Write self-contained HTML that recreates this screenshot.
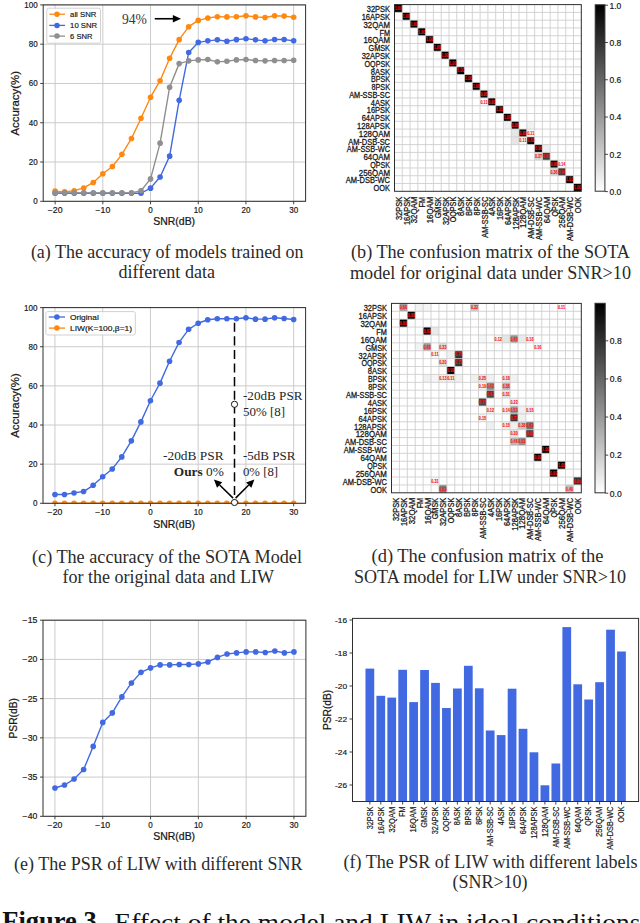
<!DOCTYPE html><html><head><meta charset="utf-8"><style>html,body{margin:0;padding:0;background:#fff;width:640px;height:923px;overflow:hidden}svg{display:block}</style></head><body>
<svg width="640" height="923" viewBox="0 0 640 923">
<rect width="640" height="923" fill="#fff"/>
<clipPath id="ca"><rect x="43.20" y="4.90" width="262.40" height="196.40"/></clipPath>
<line x1="55.13" y1="4.90" x2="55.13" y2="201.30" stroke="#cbcbcb" stroke-width="1.00"/>
<line x1="102.84" y1="4.90" x2="102.84" y2="201.30" stroke="#cbcbcb" stroke-width="1.00"/>
<line x1="150.55" y1="4.90" x2="150.55" y2="201.30" stroke="#cbcbcb" stroke-width="1.00"/>
<line x1="198.25" y1="4.90" x2="198.25" y2="201.30" stroke="#cbcbcb" stroke-width="1.00"/>
<line x1="245.96" y1="4.90" x2="245.96" y2="201.30" stroke="#cbcbcb" stroke-width="1.00"/>
<line x1="293.67" y1="4.90" x2="293.67" y2="201.30" stroke="#cbcbcb" stroke-width="1.00"/>
<line x1="43.20" y1="201.30" x2="305.60" y2="201.30" stroke="#cbcbcb" stroke-width="1.00"/>
<line x1="43.20" y1="162.02" x2="305.60" y2="162.02" stroke="#cbcbcb" stroke-width="1.00"/>
<line x1="43.20" y1="122.74" x2="305.60" y2="122.74" stroke="#cbcbcb" stroke-width="1.00"/>
<line x1="43.20" y1="83.46" x2="305.60" y2="83.46" stroke="#cbcbcb" stroke-width="1.00"/>
<line x1="43.20" y1="44.18" x2="305.60" y2="44.18" stroke="#cbcbcb" stroke-width="1.00"/>
<line x1="43.20" y1="4.90" x2="305.60" y2="4.90" stroke="#cbcbcb" stroke-width="1.00"/>
<line x1="55.13" y1="201.30" x2="55.13" y2="204.30" stroke="#2e2e2e" stroke-width="0.90"/>
<line x1="102.84" y1="201.30" x2="102.84" y2="204.30" stroke="#2e2e2e" stroke-width="0.90"/>
<line x1="150.55" y1="201.30" x2="150.55" y2="204.30" stroke="#2e2e2e" stroke-width="0.90"/>
<line x1="198.25" y1="201.30" x2="198.25" y2="204.30" stroke="#2e2e2e" stroke-width="0.90"/>
<line x1="245.96" y1="201.30" x2="245.96" y2="204.30" stroke="#2e2e2e" stroke-width="0.90"/>
<line x1="293.67" y1="201.30" x2="293.67" y2="204.30" stroke="#2e2e2e" stroke-width="0.90"/>
<line x1="40.20" y1="201.30" x2="43.20" y2="201.30" stroke="#2e2e2e" stroke-width="0.90"/>
<line x1="40.20" y1="162.02" x2="43.20" y2="162.02" stroke="#2e2e2e" stroke-width="0.90"/>
<line x1="40.20" y1="122.74" x2="43.20" y2="122.74" stroke="#2e2e2e" stroke-width="0.90"/>
<line x1="40.20" y1="83.46" x2="43.20" y2="83.46" stroke="#2e2e2e" stroke-width="0.90"/>
<line x1="40.20" y1="44.18" x2="43.20" y2="44.18" stroke="#2e2e2e" stroke-width="0.90"/>
<line x1="40.20" y1="4.90" x2="43.20" y2="4.90" stroke="#2e2e2e" stroke-width="0.90"/>
<text x="55.13" y="212.50" font-size="8.30" font-family='"Liberation Sans", sans-serif' font-weight="400" fill="#161616" text-anchor="middle" textLength="14.77" lengthAdjust="spacingAndGlyphs" stroke="#161616" stroke-width="0.18">−20</text>
<text x="102.84" y="212.50" font-size="8.30" font-family='"Liberation Sans", sans-serif' font-weight="400" fill="#161616" text-anchor="middle" textLength="14.77" lengthAdjust="spacingAndGlyphs" stroke="#161616" stroke-width="0.18">−10</text>
<text x="150.55" y="212.50" font-size="8.30" font-family='"Liberation Sans", sans-serif' font-weight="400" fill="#161616" text-anchor="middle" textLength="4.45" lengthAdjust="spacingAndGlyphs" stroke="#161616" stroke-width="0.18">0</text>
<text x="198.25" y="212.50" font-size="8.30" font-family='"Liberation Sans", sans-serif' font-weight="400" fill="#161616" text-anchor="middle" textLength="8.91" lengthAdjust="spacingAndGlyphs" stroke="#161616" stroke-width="0.18">10</text>
<text x="245.96" y="212.50" font-size="8.30" font-family='"Liberation Sans", sans-serif' font-weight="400" fill="#161616" text-anchor="middle" textLength="8.91" lengthAdjust="spacingAndGlyphs" stroke="#161616" stroke-width="0.18">20</text>
<text x="293.67" y="212.50" font-size="8.30" font-family='"Liberation Sans", sans-serif' font-weight="400" fill="#161616" text-anchor="middle" textLength="8.91" lengthAdjust="spacingAndGlyphs" stroke="#161616" stroke-width="0.18">30</text>
<text x="37.60" y="204.30" font-size="8.30" font-family='"Liberation Sans", sans-serif' font-weight="400" fill="#161616" text-anchor="end" textLength="4.45" lengthAdjust="spacingAndGlyphs" stroke="#161616" stroke-width="0.18">0</text>
<text x="37.60" y="165.02" font-size="8.30" font-family='"Liberation Sans", sans-serif' font-weight="400" fill="#161616" text-anchor="end" textLength="8.91" lengthAdjust="spacingAndGlyphs" stroke="#161616" stroke-width="0.18">20</text>
<text x="37.60" y="125.74" font-size="8.30" font-family='"Liberation Sans", sans-serif' font-weight="400" fill="#161616" text-anchor="end" textLength="8.91" lengthAdjust="spacingAndGlyphs" stroke="#161616" stroke-width="0.18">40</text>
<text x="37.60" y="86.46" font-size="8.30" font-family='"Liberation Sans", sans-serif' font-weight="400" fill="#161616" text-anchor="end" textLength="8.91" lengthAdjust="spacingAndGlyphs" stroke="#161616" stroke-width="0.18">60</text>
<text x="37.60" y="47.18" font-size="8.30" font-family='"Liberation Sans", sans-serif' font-weight="400" fill="#161616" text-anchor="end" textLength="8.91" lengthAdjust="spacingAndGlyphs" stroke="#161616" stroke-width="0.18">80</text>
<text x="37.60" y="7.90" font-size="8.30" font-family='"Liberation Sans", sans-serif' font-weight="400" fill="#161616" text-anchor="end" textLength="13.36" lengthAdjust="spacingAndGlyphs" stroke="#161616" stroke-width="0.18">100</text>
<polyline points="55.13,193.25 64.67,193.25 74.21,193.25 83.75,193.25 93.29,193.25 102.84,193.25 112.38,193.25 121.92,193.25 131.46,193.25 141.00,193.25 150.55,188.14 160.09,176.95 169.63,156.13 179.17,100.35 188.71,52.43 198.25,42.41 207.80,40.84 217.34,39.86 226.88,41.23 236.42,39.66 245.96,38.68 255.51,39.86 265.05,40.84 274.59,39.47 284.13,39.47 293.67,40.84" fill="none" stroke="#4169e1" stroke-width="1.40" stroke-linejoin="round" clip-path="url(#ca)"/>
<g fill="#4169e1" clip-path="url(#ca)">
<circle cx="55.13" cy="193.25" r="2.80"/>
<circle cx="64.67" cy="193.25" r="2.80"/>
<circle cx="74.21" cy="193.25" r="2.80"/>
<circle cx="83.75" cy="193.25" r="2.80"/>
<circle cx="93.29" cy="193.25" r="2.80"/>
<circle cx="102.84" cy="193.25" r="2.80"/>
<circle cx="112.38" cy="193.25" r="2.80"/>
<circle cx="121.92" cy="193.25" r="2.80"/>
<circle cx="131.46" cy="193.25" r="2.80"/>
<circle cx="141.00" cy="193.25" r="2.80"/>
<circle cx="150.55" cy="188.14" r="2.80"/>
<circle cx="160.09" cy="176.95" r="2.80"/>
<circle cx="169.63" cy="156.13" r="2.80"/>
<circle cx="179.17" cy="100.35" r="2.80"/>
<circle cx="188.71" cy="52.43" r="2.80"/>
<circle cx="198.25" cy="42.41" r="2.80"/>
<circle cx="207.80" cy="40.84" r="2.80"/>
<circle cx="217.34" cy="39.86" r="2.80"/>
<circle cx="226.88" cy="41.23" r="2.80"/>
<circle cx="236.42" cy="39.66" r="2.80"/>
<circle cx="245.96" cy="38.68" r="2.80"/>
<circle cx="255.51" cy="39.86" r="2.80"/>
<circle cx="265.05" cy="40.84" r="2.80"/>
<circle cx="274.59" cy="39.47" r="2.80"/>
<circle cx="284.13" cy="39.47" r="2.80"/>
<circle cx="293.67" cy="40.84" r="2.80"/>
</g>
<polyline points="55.13,191.09 64.67,191.87 74.21,190.69 83.75,187.94 93.29,182.45 102.84,173.80 112.38,166.54 121.92,154.36 131.46,138.45 141.00,118.22 150.55,97.21 160.09,80.71 169.63,58.32 179.17,39.66 188.71,26.70 198.25,20.42 207.80,18.06 217.34,16.68 226.88,16.88 236.42,16.68 245.96,15.70 255.51,16.88 265.05,17.47 274.59,15.70 284.13,16.09 293.67,17.27" fill="none" stroke="#ff8811" stroke-width="1.40" stroke-linejoin="round" clip-path="url(#ca)"/>
<g fill="#ff8811" clip-path="url(#ca)">
<circle cx="55.13" cy="191.09" r="2.80"/>
<circle cx="64.67" cy="191.87" r="2.80"/>
<circle cx="74.21" cy="190.69" r="2.80"/>
<circle cx="83.75" cy="187.94" r="2.80"/>
<circle cx="93.29" cy="182.45" r="2.80"/>
<circle cx="102.84" cy="173.80" r="2.80"/>
<circle cx="112.38" cy="166.54" r="2.80"/>
<circle cx="121.92" cy="154.36" r="2.80"/>
<circle cx="131.46" cy="138.45" r="2.80"/>
<circle cx="141.00" cy="118.22" r="2.80"/>
<circle cx="150.55" cy="97.21" r="2.80"/>
<circle cx="160.09" cy="80.71" r="2.80"/>
<circle cx="169.63" cy="58.32" r="2.80"/>
<circle cx="179.17" cy="39.66" r="2.80"/>
<circle cx="188.71" cy="26.70" r="2.80"/>
<circle cx="198.25" cy="20.42" r="2.80"/>
<circle cx="207.80" cy="18.06" r="2.80"/>
<circle cx="217.34" cy="16.68" r="2.80"/>
<circle cx="226.88" cy="16.88" r="2.80"/>
<circle cx="236.42" cy="16.68" r="2.80"/>
<circle cx="245.96" cy="15.70" r="2.80"/>
<circle cx="255.51" cy="16.88" r="2.80"/>
<circle cx="265.05" cy="17.47" r="2.80"/>
<circle cx="274.59" cy="15.70" r="2.80"/>
<circle cx="284.13" cy="16.09" r="2.80"/>
<circle cx="293.67" cy="17.27" r="2.80"/>
</g>
<polyline points="55.13,192.85 64.67,192.85 74.21,192.85 83.75,192.85 93.29,192.85 102.84,192.85 112.38,192.85 121.92,192.85 131.46,192.85 141.00,190.69 150.55,178.91 160.09,143.17 169.63,87.19 179.17,63.62 188.71,60.87 198.25,59.89 207.80,59.50 217.34,61.86 226.88,61.27 236.42,59.89 245.96,59.50 255.51,60.48 265.05,60.87 274.59,60.48 284.13,60.48 293.67,60.28" fill="none" stroke="#8f8f8f" stroke-width="1.40" stroke-linejoin="round" clip-path="url(#ca)"/>
<g fill="#8f8f8f" clip-path="url(#ca)">
<circle cx="55.13" cy="192.85" r="2.80"/>
<circle cx="64.67" cy="192.85" r="2.80"/>
<circle cx="74.21" cy="192.85" r="2.80"/>
<circle cx="83.75" cy="192.85" r="2.80"/>
<circle cx="93.29" cy="192.85" r="2.80"/>
<circle cx="102.84" cy="192.85" r="2.80"/>
<circle cx="112.38" cy="192.85" r="2.80"/>
<circle cx="121.92" cy="192.85" r="2.80"/>
<circle cx="131.46" cy="192.85" r="2.80"/>
<circle cx="141.00" cy="190.69" r="2.80"/>
<circle cx="150.55" cy="178.91" r="2.80"/>
<circle cx="160.09" cy="143.17" r="2.80"/>
<circle cx="169.63" cy="87.19" r="2.80"/>
<circle cx="179.17" cy="63.62" r="2.80"/>
<circle cx="188.71" cy="60.87" r="2.80"/>
<circle cx="198.25" cy="59.89" r="2.80"/>
<circle cx="207.80" cy="59.50" r="2.80"/>
<circle cx="217.34" cy="61.86" r="2.80"/>
<circle cx="226.88" cy="61.27" r="2.80"/>
<circle cx="236.42" cy="59.89" r="2.80"/>
<circle cx="245.96" cy="59.50" r="2.80"/>
<circle cx="255.51" cy="60.48" r="2.80"/>
<circle cx="265.05" cy="60.87" r="2.80"/>
<circle cx="274.59" cy="60.48" r="2.80"/>
<circle cx="284.13" cy="60.48" r="2.80"/>
<circle cx="293.67" cy="60.28" r="2.80"/>
</g>
<rect x="43.20" y="4.90" width="262.40" height="196.40" fill="none" stroke="#2e2e2e" stroke-width="1"/>
<rect x="46.8" y="8.2" width="53.7" height="35" rx="1.8" fill="#fff" fill-opacity="0.8" stroke="#cccccc" stroke-width="0.9"/>
<line x1="49.30" y1="14.20" x2="65.00" y2="14.20" stroke="#ff8811" stroke-width="1.30"/>
<circle cx="57" cy="14.20" r="2.75" fill="#ff8811"/>
<text x="70.10" y="17.10" font-size="8.00" font-family='"Liberation Sans", sans-serif' font-weight="400" fill="#161616" text-anchor="start" textLength="26.20" lengthAdjust="spacingAndGlyphs" stroke="#161616" stroke-width="0.18">all SNR</text>
<line x1="49.30" y1="25.40" x2="65.00" y2="25.40" stroke="#4169e1" stroke-width="1.30"/>
<circle cx="57" cy="25.40" r="2.75" fill="#4169e1"/>
<text x="70.10" y="28.30" font-size="8.00" font-family='"Liberation Sans", sans-serif' font-weight="400" fill="#161616" text-anchor="start" textLength="26.96" lengthAdjust="spacingAndGlyphs" stroke="#161616" stroke-width="0.18">10 SNR</text>
<line x1="49.30" y1="36.10" x2="65.00" y2="36.10" stroke="#8f8f8f" stroke-width="1.30"/>
<circle cx="57" cy="36.10" r="2.75" fill="#8f8f8f"/>
<text x="70.10" y="39.00" font-size="8.00" font-family='"Liberation Sans", sans-serif' font-weight="400" fill="#161616" text-anchor="start" textLength="22.28" lengthAdjust="spacingAndGlyphs" stroke="#161616" stroke-width="0.18">6 SNR</text>
<text x="19.00" y="103.30" font-size="10.20" font-family='"Liberation Sans", sans-serif' font-weight="400" fill="#161616" text-anchor="middle" textLength="64.50" lengthAdjust="spacingAndGlyphs" transform="rotate(-90 19.00 103.30)" stroke="#161616" stroke-width="0.22">Accuracy(%)</text>
<text x="174.20" y="224.90" font-size="10.90" font-family='"Liberation Sans", sans-serif' font-weight="400" fill="#161616" text-anchor="middle" textLength="41.79" lengthAdjust="spacingAndGlyphs" stroke="#161616" stroke-width="0.24">SNR(dB)</text>
<text x="121.90" y="23.75" font-size="13.60" font-family='"Liberation Serif", serif' font-weight="400" fill="#383838" text-anchor="start" textLength="25.00" lengthAdjust="spacingAndGlyphs">94%</text>
<line x1="154.75" y1="18.75" x2="175.00" y2="18.75" stroke="#000" stroke-width="1.60"/>
<path d="M181.0,18.75 L172.8,15.0 L172.8,22.5 Z" fill="#000"/>
<text x="167.20" y="257.90" font-size="18.00" font-family='"Liberation Serif", serif' font-weight="400" fill="#2a2a2a" text-anchor="middle" textLength="272.60" lengthAdjust="spacingAndGlyphs">(a) The accuracy of models trained on</text>
<text x="166.75" y="278.10" font-size="18.00" font-family='"Liberation Serif", serif' font-weight="400" fill="#2a2a2a" text-anchor="middle" textLength="96.50" lengthAdjust="spacingAndGlyphs">different data</text>
<rect x="394.50" y="4.60" width="7.78" height="7.78" fill="#000000"/>
<rect x="402.28" y="12.38" width="7.78" height="7.78" fill="#000000"/>
<rect x="410.07" y="20.16" width="7.78" height="7.78" fill="#000000"/>
<rect x="417.85" y="27.94" width="7.78" height="7.78" fill="#000000"/>
<rect x="425.63" y="35.72" width="7.78" height="7.78" fill="#000000"/>
<rect x="433.42" y="43.50" width="7.78" height="7.78" fill="#000000"/>
<rect x="441.20" y="51.28" width="7.78" height="7.78" fill="#000000"/>
<rect x="448.98" y="59.05" width="7.78" height="7.78" fill="#000000"/>
<rect x="456.77" y="66.83" width="7.78" height="7.78" fill="#000000"/>
<rect x="464.55" y="74.61" width="7.78" height="7.78" fill="#000000"/>
<rect x="472.33" y="82.39" width="7.78" height="7.78" fill="#000000"/>
<rect x="480.12" y="90.17" width="7.78" height="7.78" fill="#0d0d0d"/>
<rect x="487.90" y="97.95" width="7.78" height="7.78" fill="#0d0d0d"/>
<rect x="495.68" y="105.73" width="7.78" height="7.78" fill="#000000"/>
<rect x="503.47" y="113.51" width="7.78" height="7.78" fill="#000000"/>
<rect x="511.25" y="121.29" width="7.78" height="7.78" fill="#080808"/>
<rect x="519.03" y="129.07" width="7.78" height="7.78" fill="#0d0d0d"/>
<rect x="526.82" y="136.85" width="7.78" height="7.78" fill="#0d0d0d"/>
<rect x="534.60" y="144.62" width="7.78" height="7.78" fill="#080808"/>
<rect x="542.38" y="152.40" width="7.78" height="7.78" fill="#3d3d3d"/>
<rect x="550.17" y="160.18" width="7.78" height="7.78" fill="#0d0d0d"/>
<rect x="557.95" y="167.96" width="7.78" height="7.78" fill="#3d3d3d"/>
<rect x="565.73" y="175.74" width="7.78" height="7.78" fill="#000000"/>
<rect x="573.52" y="183.52" width="7.78" height="7.78" fill="#000000"/>
<rect x="487.90" y="90.17" width="7.78" height="7.78" fill="#f2f2f2"/>
<rect x="480.12" y="97.95" width="7.78" height="7.78" fill="#fafafa"/>
<rect x="503.47" y="121.29" width="7.78" height="7.78" fill="#f2f2f2"/>
<rect x="526.82" y="121.29" width="7.78" height="7.78" fill="#f2f2f2"/>
<rect x="511.25" y="129.07" width="7.78" height="7.78" fill="#e6e6e6"/>
<rect x="526.82" y="129.07" width="7.78" height="7.78" fill="#fafafa"/>
<rect x="511.25" y="136.85" width="7.78" height="7.78" fill="#e6e6e6"/>
<rect x="519.03" y="136.85" width="7.78" height="7.78" fill="#fafafa"/>
<rect x="542.38" y="144.62" width="7.78" height="7.78" fill="#f0f0f0"/>
<rect x="534.60" y="152.40" width="7.78" height="7.78" fill="#d9d9d9"/>
<rect x="557.95" y="160.18" width="7.78" height="7.78" fill="#fafafa"/>
<rect x="550.17" y="167.96" width="7.78" height="7.78" fill="#d1d1d1"/>
<line x1="402.28" y1="4.60" x2="402.28" y2="191.30" stroke="#cdcdcd" stroke-width="1.00" stroke-opacity="0.85"/>
<line x1="394.50" y1="12.38" x2="581.30" y2="12.38" stroke="#cdcdcd" stroke-width="1.00" stroke-opacity="0.85"/>
<line x1="410.07" y1="4.60" x2="410.07" y2="191.30" stroke="#cdcdcd" stroke-width="1.00" stroke-opacity="0.85"/>
<line x1="394.50" y1="20.16" x2="581.30" y2="20.16" stroke="#cdcdcd" stroke-width="1.00" stroke-opacity="0.85"/>
<line x1="417.85" y1="4.60" x2="417.85" y2="191.30" stroke="#cdcdcd" stroke-width="1.00" stroke-opacity="0.85"/>
<line x1="394.50" y1="27.94" x2="581.30" y2="27.94" stroke="#cdcdcd" stroke-width="1.00" stroke-opacity="0.85"/>
<line x1="425.63" y1="4.60" x2="425.63" y2="191.30" stroke="#cdcdcd" stroke-width="1.00" stroke-opacity="0.85"/>
<line x1="394.50" y1="35.72" x2="581.30" y2="35.72" stroke="#cdcdcd" stroke-width="1.00" stroke-opacity="0.85"/>
<line x1="433.42" y1="4.60" x2="433.42" y2="191.30" stroke="#cdcdcd" stroke-width="1.00" stroke-opacity="0.85"/>
<line x1="394.50" y1="43.50" x2="581.30" y2="43.50" stroke="#cdcdcd" stroke-width="1.00" stroke-opacity="0.85"/>
<line x1="441.20" y1="4.60" x2="441.20" y2="191.30" stroke="#cdcdcd" stroke-width="1.00" stroke-opacity="0.85"/>
<line x1="394.50" y1="51.28" x2="581.30" y2="51.28" stroke="#cdcdcd" stroke-width="1.00" stroke-opacity="0.85"/>
<line x1="448.98" y1="4.60" x2="448.98" y2="191.30" stroke="#cdcdcd" stroke-width="1.00" stroke-opacity="0.85"/>
<line x1="394.50" y1="59.05" x2="581.30" y2="59.05" stroke="#cdcdcd" stroke-width="1.00" stroke-opacity="0.85"/>
<line x1="456.77" y1="4.60" x2="456.77" y2="191.30" stroke="#cdcdcd" stroke-width="1.00" stroke-opacity="0.85"/>
<line x1="394.50" y1="66.83" x2="581.30" y2="66.83" stroke="#cdcdcd" stroke-width="1.00" stroke-opacity="0.85"/>
<line x1="464.55" y1="4.60" x2="464.55" y2="191.30" stroke="#cdcdcd" stroke-width="1.00" stroke-opacity="0.85"/>
<line x1="394.50" y1="74.61" x2="581.30" y2="74.61" stroke="#cdcdcd" stroke-width="1.00" stroke-opacity="0.85"/>
<line x1="472.33" y1="4.60" x2="472.33" y2="191.30" stroke="#cdcdcd" stroke-width="1.00" stroke-opacity="0.85"/>
<line x1="394.50" y1="82.39" x2="581.30" y2="82.39" stroke="#cdcdcd" stroke-width="1.00" stroke-opacity="0.85"/>
<line x1="480.12" y1="4.60" x2="480.12" y2="191.30" stroke="#cdcdcd" stroke-width="1.00" stroke-opacity="0.85"/>
<line x1="394.50" y1="90.17" x2="581.30" y2="90.17" stroke="#cdcdcd" stroke-width="1.00" stroke-opacity="0.85"/>
<line x1="487.90" y1="4.60" x2="487.90" y2="191.30" stroke="#cdcdcd" stroke-width="1.00" stroke-opacity="0.85"/>
<line x1="394.50" y1="97.95" x2="581.30" y2="97.95" stroke="#cdcdcd" stroke-width="1.00" stroke-opacity="0.85"/>
<line x1="495.68" y1="4.60" x2="495.68" y2="191.30" stroke="#cdcdcd" stroke-width="1.00" stroke-opacity="0.85"/>
<line x1="394.50" y1="105.73" x2="581.30" y2="105.73" stroke="#cdcdcd" stroke-width="1.00" stroke-opacity="0.85"/>
<line x1="503.47" y1="4.60" x2="503.47" y2="191.30" stroke="#cdcdcd" stroke-width="1.00" stroke-opacity="0.85"/>
<line x1="394.50" y1="113.51" x2="581.30" y2="113.51" stroke="#cdcdcd" stroke-width="1.00" stroke-opacity="0.85"/>
<line x1="511.25" y1="4.60" x2="511.25" y2="191.30" stroke="#cdcdcd" stroke-width="1.00" stroke-opacity="0.85"/>
<line x1="394.50" y1="121.29" x2="581.30" y2="121.29" stroke="#cdcdcd" stroke-width="1.00" stroke-opacity="0.85"/>
<line x1="519.03" y1="4.60" x2="519.03" y2="191.30" stroke="#cdcdcd" stroke-width="1.00" stroke-opacity="0.85"/>
<line x1="394.50" y1="129.07" x2="581.30" y2="129.07" stroke="#cdcdcd" stroke-width="1.00" stroke-opacity="0.85"/>
<line x1="526.82" y1="4.60" x2="526.82" y2="191.30" stroke="#cdcdcd" stroke-width="1.00" stroke-opacity="0.85"/>
<line x1="394.50" y1="136.85" x2="581.30" y2="136.85" stroke="#cdcdcd" stroke-width="1.00" stroke-opacity="0.85"/>
<line x1="534.60" y1="4.60" x2="534.60" y2="191.30" stroke="#cdcdcd" stroke-width="1.00" stroke-opacity="0.85"/>
<line x1="394.50" y1="144.62" x2="581.30" y2="144.62" stroke="#cdcdcd" stroke-width="1.00" stroke-opacity="0.85"/>
<line x1="542.38" y1="4.60" x2="542.38" y2="191.30" stroke="#cdcdcd" stroke-width="1.00" stroke-opacity="0.85"/>
<line x1="394.50" y1="152.40" x2="581.30" y2="152.40" stroke="#cdcdcd" stroke-width="1.00" stroke-opacity="0.85"/>
<line x1="550.17" y1="4.60" x2="550.17" y2="191.30" stroke="#cdcdcd" stroke-width="1.00" stroke-opacity="0.85"/>
<line x1="394.50" y1="160.18" x2="581.30" y2="160.18" stroke="#cdcdcd" stroke-width="1.00" stroke-opacity="0.85"/>
<line x1="557.95" y1="4.60" x2="557.95" y2="191.30" stroke="#cdcdcd" stroke-width="1.00" stroke-opacity="0.85"/>
<line x1="394.50" y1="167.96" x2="581.30" y2="167.96" stroke="#cdcdcd" stroke-width="1.00" stroke-opacity="0.85"/>
<line x1="565.73" y1="4.60" x2="565.73" y2="191.30" stroke="#cdcdcd" stroke-width="1.00" stroke-opacity="0.85"/>
<line x1="394.50" y1="175.74" x2="581.30" y2="175.74" stroke="#cdcdcd" stroke-width="1.00" stroke-opacity="0.85"/>
<line x1="573.52" y1="4.60" x2="573.52" y2="191.30" stroke="#cdcdcd" stroke-width="1.00" stroke-opacity="0.85"/>
<line x1="394.50" y1="183.52" x2="581.30" y2="183.52" stroke="#cdcdcd" stroke-width="1.00" stroke-opacity="0.85"/>
<text x="398.39" y="10.19" font-size="4.80" font-family='"Liberation Sans", sans-serif' font-weight="700" fill="#f51414" text-anchor="middle" textLength="7.16" lengthAdjust="spacingAndGlyphs" stroke="#f51414" stroke-width="0.1">1.00</text>
<text x="406.18" y="17.97" font-size="4.80" font-family='"Liberation Sans", sans-serif' font-weight="700" fill="#f51414" text-anchor="middle" textLength="7.16" lengthAdjust="spacingAndGlyphs" stroke="#f51414" stroke-width="0.1">1.00</text>
<text x="413.96" y="25.75" font-size="4.80" font-family='"Liberation Sans", sans-serif' font-weight="700" fill="#f51414" text-anchor="middle" textLength="7.16" lengthAdjust="spacingAndGlyphs" stroke="#f51414" stroke-width="0.1">1.00</text>
<text x="421.74" y="33.53" font-size="4.80" font-family='"Liberation Sans", sans-serif' font-weight="700" fill="#f51414" text-anchor="middle" textLength="7.16" lengthAdjust="spacingAndGlyphs" stroke="#f51414" stroke-width="0.1">1.00</text>
<text x="429.52" y="41.31" font-size="4.80" font-family='"Liberation Sans", sans-serif' font-weight="700" fill="#f51414" text-anchor="middle" textLength="7.16" lengthAdjust="spacingAndGlyphs" stroke="#f51414" stroke-width="0.1">1.00</text>
<text x="437.31" y="49.09" font-size="4.80" font-family='"Liberation Sans", sans-serif' font-weight="700" fill="#f51414" text-anchor="middle" textLength="7.16" lengthAdjust="spacingAndGlyphs" stroke="#f51414" stroke-width="0.1">1.00</text>
<text x="445.09" y="56.86" font-size="4.80" font-family='"Liberation Sans", sans-serif' font-weight="700" fill="#f51414" text-anchor="middle" textLength="7.16" lengthAdjust="spacingAndGlyphs" stroke="#f51414" stroke-width="0.1">1.00</text>
<text x="452.88" y="64.64" font-size="4.80" font-family='"Liberation Sans", sans-serif' font-weight="700" fill="#f51414" text-anchor="middle" textLength="7.16" lengthAdjust="spacingAndGlyphs" stroke="#f51414" stroke-width="0.1">1.00</text>
<text x="460.66" y="72.42" font-size="4.80" font-family='"Liberation Sans", sans-serif' font-weight="700" fill="#f51414" text-anchor="middle" textLength="7.16" lengthAdjust="spacingAndGlyphs" stroke="#f51414" stroke-width="0.1">1.00</text>
<text x="468.44" y="80.20" font-size="4.80" font-family='"Liberation Sans", sans-serif' font-weight="700" fill="#f51414" text-anchor="middle" textLength="7.16" lengthAdjust="spacingAndGlyphs" stroke="#f51414" stroke-width="0.1">1.00</text>
<text x="476.22" y="87.98" font-size="4.80" font-family='"Liberation Sans", sans-serif' font-weight="700" fill="#f51414" text-anchor="middle" textLength="7.16" lengthAdjust="spacingAndGlyphs" stroke="#f51414" stroke-width="0.1">1.00</text>
<text x="484.01" y="95.76" font-size="4.80" font-family='"Liberation Sans", sans-serif' font-weight="700" fill="#f51414" text-anchor="middle" textLength="7.16" lengthAdjust="spacingAndGlyphs" stroke="#f51414" stroke-width="0.1">0.95</text>
<text x="491.79" y="103.54" font-size="4.80" font-family='"Liberation Sans", sans-serif' font-weight="700" fill="#f51414" text-anchor="middle" textLength="7.16" lengthAdjust="spacingAndGlyphs" stroke="#f51414" stroke-width="0.1">0.89</text>
<text x="499.57" y="111.32" font-size="4.80" font-family='"Liberation Sans", sans-serif' font-weight="700" fill="#f51414" text-anchor="middle" textLength="7.16" lengthAdjust="spacingAndGlyphs" stroke="#f51414" stroke-width="0.1">1.00</text>
<text x="507.36" y="119.10" font-size="4.80" font-family='"Liberation Sans", sans-serif' font-weight="700" fill="#f51414" text-anchor="middle" textLength="7.16" lengthAdjust="spacingAndGlyphs" stroke="#f51414" stroke-width="0.1">1.00</text>
<text x="515.14" y="126.88" font-size="4.80" font-family='"Liberation Sans", sans-serif' font-weight="700" fill="#f51414" text-anchor="middle" textLength="7.16" lengthAdjust="spacingAndGlyphs" stroke="#f51414" stroke-width="0.1">0.99</text>
<text x="522.92" y="134.66" font-size="4.80" font-family='"Liberation Sans", sans-serif' font-weight="700" fill="#f51414" text-anchor="middle" textLength="7.16" lengthAdjust="spacingAndGlyphs" stroke="#f51414" stroke-width="0.1">0.89</text>
<text x="530.71" y="142.44" font-size="4.80" font-family='"Liberation Sans", sans-serif' font-weight="700" fill="#f51414" text-anchor="middle" textLength="7.16" lengthAdjust="spacingAndGlyphs" stroke="#f51414" stroke-width="0.1">0.89</text>
<text x="538.49" y="150.21" font-size="4.80" font-family='"Liberation Sans", sans-serif' font-weight="700" fill="#f51414" text-anchor="middle" textLength="7.16" lengthAdjust="spacingAndGlyphs" stroke="#f51414" stroke-width="0.1">0.96</text>
<text x="546.27" y="157.99" font-size="4.80" font-family='"Liberation Sans", sans-serif' font-weight="700" fill="#f51414" text-anchor="middle" textLength="7.16" lengthAdjust="spacingAndGlyphs" stroke="#f51414" stroke-width="0.1">0.63</text>
<text x="554.06" y="165.77" font-size="4.80" font-family='"Liberation Sans", sans-serif' font-weight="700" fill="#f51414" text-anchor="middle" textLength="7.16" lengthAdjust="spacingAndGlyphs" stroke="#f51414" stroke-width="0.1">0.86</text>
<text x="561.84" y="173.55" font-size="4.80" font-family='"Liberation Sans", sans-serif' font-weight="700" fill="#f51414" text-anchor="middle" textLength="7.16" lengthAdjust="spacingAndGlyphs" stroke="#f51414" stroke-width="0.1">0.64</text>
<text x="569.62" y="181.33" font-size="4.80" font-family='"Liberation Sans", sans-serif' font-weight="700" fill="#f51414" text-anchor="middle" textLength="7.16" lengthAdjust="spacingAndGlyphs" stroke="#f51414" stroke-width="0.1">1.00</text>
<text x="577.41" y="189.11" font-size="4.80" font-family='"Liberation Sans", sans-serif' font-weight="700" fill="#f51414" text-anchor="middle" textLength="7.16" lengthAdjust="spacingAndGlyphs" stroke="#f51414" stroke-width="0.1">1.00</text>
<text x="484.01" y="103.54" font-size="4.80" font-family='"Liberation Sans", sans-serif' font-weight="700" fill="#f51414" text-anchor="middle" textLength="7.16" lengthAdjust="spacingAndGlyphs" stroke="#f51414" stroke-width="0.1">0.11</text>
<text x="530.71" y="134.66" font-size="4.80" font-family='"Liberation Sans", sans-serif' font-weight="700" fill="#f51414" text-anchor="middle" textLength="7.16" lengthAdjust="spacingAndGlyphs" stroke="#f51414" stroke-width="0.1">0.11</text>
<text x="522.92" y="142.44" font-size="4.80" font-family='"Liberation Sans", sans-serif' font-weight="700" fill="#f51414" text-anchor="middle" textLength="7.16" lengthAdjust="spacingAndGlyphs" stroke="#f51414" stroke-width="0.1">0.11</text>
<text x="538.49" y="157.99" font-size="4.80" font-family='"Liberation Sans", sans-serif' font-weight="700" fill="#f51414" text-anchor="middle" textLength="7.16" lengthAdjust="spacingAndGlyphs" stroke="#f51414" stroke-width="0.1">0.37</text>
<text x="561.84" y="165.77" font-size="4.80" font-family='"Liberation Sans", sans-serif' font-weight="700" fill="#f51414" text-anchor="middle" textLength="7.16" lengthAdjust="spacingAndGlyphs" stroke="#f51414" stroke-width="0.1">0.14</text>
<text x="554.06" y="173.55" font-size="4.80" font-family='"Liberation Sans", sans-serif' font-weight="700" fill="#f51414" text-anchor="middle" textLength="7.16" lengthAdjust="spacingAndGlyphs" stroke="#f51414" stroke-width="0.1">0.36</text>
<rect x="394.50" y="4.60" width="186.80" height="186.70" fill="none" stroke="#2e2e2e" stroke-width="1"/>
<text x="390.00" y="12.29" font-size="8.60" font-family='"Liberation Sans", sans-serif' font-weight="400" fill="#161616" text-anchor="end" textLength="23.27" lengthAdjust="spacingAndGlyphs" stroke="#161616" stroke-width="0.28">32PSK</text>
<text x="401.89" y="196.80" font-size="9.00" font-family='"Liberation Sans", sans-serif' font-weight="400" fill="#161616" text-anchor="end" textLength="23.27" lengthAdjust="spacingAndGlyphs" transform="rotate(-90 401.89 196.80)" stroke="#161616" stroke-width="0.29">32PSK</text>
<text x="390.00" y="20.07" font-size="8.60" font-family='"Liberation Sans", sans-serif' font-weight="400" fill="#161616" text-anchor="end" textLength="28.30" lengthAdjust="spacingAndGlyphs" stroke="#161616" stroke-width="0.28">16APSK</text>
<text x="409.68" y="196.80" font-size="9.00" font-family='"Liberation Sans", sans-serif' font-weight="400" fill="#161616" text-anchor="end" textLength="28.30" lengthAdjust="spacingAndGlyphs" transform="rotate(-90 409.68 196.80)" stroke="#161616" stroke-width="0.29">16APSK</text>
<text x="390.00" y="27.85" font-size="8.60" font-family='"Liberation Sans", sans-serif' font-weight="400" fill="#161616" text-anchor="end" textLength="26.51" lengthAdjust="spacingAndGlyphs" stroke="#161616" stroke-width="0.28">32QAM</text>
<text x="417.46" y="196.80" font-size="9.00" font-family='"Liberation Sans", sans-serif' font-weight="400" fill="#161616" text-anchor="end" textLength="26.51" lengthAdjust="spacingAndGlyphs" transform="rotate(-90 417.46 196.80)" stroke="#161616" stroke-width="0.29">32QAM</text>
<text x="390.00" y="35.63" font-size="8.60" font-family='"Liberation Sans", sans-serif' font-weight="400" fill="#161616" text-anchor="end" textLength="10.57" lengthAdjust="spacingAndGlyphs" stroke="#161616" stroke-width="0.28">FM</text>
<text x="425.24" y="196.80" font-size="9.00" font-family='"Liberation Sans", sans-serif' font-weight="400" fill="#161616" text-anchor="end" textLength="10.57" lengthAdjust="spacingAndGlyphs" transform="rotate(-90 425.24 196.80)" stroke="#161616" stroke-width="0.29">FM</text>
<text x="390.00" y="43.41" font-size="8.60" font-family='"Liberation Sans", sans-serif' font-weight="400" fill="#161616" text-anchor="end" textLength="26.51" lengthAdjust="spacingAndGlyphs" stroke="#161616" stroke-width="0.28">16QAM</text>
<text x="433.02" y="196.80" font-size="9.00" font-family='"Liberation Sans", sans-serif' font-weight="400" fill="#161616" text-anchor="end" textLength="26.51" lengthAdjust="spacingAndGlyphs" transform="rotate(-90 433.02 196.80)" stroke="#161616" stroke-width="0.29">16QAM</text>
<text x="390.00" y="51.19" font-size="8.60" font-family='"Liberation Sans", sans-serif' font-weight="400" fill="#161616" text-anchor="end" textLength="21.52" lengthAdjust="spacingAndGlyphs" stroke="#161616" stroke-width="0.28">GMSK</text>
<text x="440.81" y="196.80" font-size="9.00" font-family='"Liberation Sans", sans-serif' font-weight="400" fill="#161616" text-anchor="end" textLength="21.52" lengthAdjust="spacingAndGlyphs" transform="rotate(-90 440.81 196.80)" stroke="#161616" stroke-width="0.29">GMSK</text>
<text x="390.00" y="58.96" font-size="8.60" font-family='"Liberation Sans", sans-serif' font-weight="400" fill="#161616" text-anchor="end" textLength="28.30" lengthAdjust="spacingAndGlyphs" stroke="#161616" stroke-width="0.28">32APSK</text>
<text x="448.59" y="196.80" font-size="9.00" font-family='"Liberation Sans", sans-serif' font-weight="400" fill="#161616" text-anchor="end" textLength="28.30" lengthAdjust="spacingAndGlyphs" transform="rotate(-90 448.59 196.80)" stroke="#161616" stroke-width="0.29">32APSK</text>
<text x="390.00" y="66.74" font-size="8.60" font-family='"Liberation Sans", sans-serif' font-weight="400" fill="#161616" text-anchor="end" textLength="25.49" lengthAdjust="spacingAndGlyphs" stroke="#161616" stroke-width="0.28">OQPSK</text>
<text x="456.38" y="196.80" font-size="9.00" font-family='"Liberation Sans", sans-serif' font-weight="400" fill="#161616" text-anchor="end" textLength="25.49" lengthAdjust="spacingAndGlyphs" transform="rotate(-90 456.38 196.80)" stroke="#161616" stroke-width="0.29">OQPSK</text>
<text x="390.00" y="74.52" font-size="8.60" font-family='"Liberation Sans", sans-serif' font-weight="400" fill="#161616" text-anchor="end" textLength="19.19" lengthAdjust="spacingAndGlyphs" stroke="#161616" stroke-width="0.28">8ASK</text>
<text x="464.16" y="196.80" font-size="9.00" font-family='"Liberation Sans", sans-serif' font-weight="400" fill="#161616" text-anchor="end" textLength="19.19" lengthAdjust="spacingAndGlyphs" transform="rotate(-90 464.16 196.80)" stroke="#161616" stroke-width="0.29">8ASK</text>
<text x="390.00" y="82.30" font-size="8.60" font-family='"Liberation Sans", sans-serif' font-weight="400" fill="#161616" text-anchor="end" textLength="18.96" lengthAdjust="spacingAndGlyphs" stroke="#161616" stroke-width="0.28">BPSK</text>
<text x="471.94" y="196.80" font-size="9.00" font-family='"Liberation Sans", sans-serif' font-weight="400" fill="#161616" text-anchor="end" textLength="18.96" lengthAdjust="spacingAndGlyphs" transform="rotate(-90 471.94 196.80)" stroke="#161616" stroke-width="0.29">BPSK</text>
<text x="390.00" y="90.08" font-size="8.60" font-family='"Liberation Sans", sans-serif' font-weight="400" fill="#161616" text-anchor="end" textLength="18.59" lengthAdjust="spacingAndGlyphs" stroke="#161616" stroke-width="0.28">8PSK</text>
<text x="479.72" y="196.80" font-size="9.00" font-family='"Liberation Sans", sans-serif' font-weight="400" fill="#161616" text-anchor="end" textLength="18.59" lengthAdjust="spacingAndGlyphs" transform="rotate(-90 479.72 196.80)" stroke="#161616" stroke-width="0.29">8PSK</text>
<text x="390.00" y="97.86" font-size="8.60" font-family='"Liberation Sans", sans-serif' font-weight="400" fill="#161616" text-anchor="end" textLength="40.85" lengthAdjust="spacingAndGlyphs" stroke="#161616" stroke-width="0.28">AM-SSB-SC</text>
<text x="487.51" y="196.80" font-size="9.00" font-family='"Liberation Sans", sans-serif' font-weight="400" fill="#161616" text-anchor="end" textLength="40.85" lengthAdjust="spacingAndGlyphs" transform="rotate(-90 487.51 196.80)" stroke="#161616" stroke-width="0.29">AM-SSB-SC</text>
<text x="390.00" y="105.64" font-size="8.60" font-family='"Liberation Sans", sans-serif' font-weight="400" fill="#161616" text-anchor="end" textLength="19.19" lengthAdjust="spacingAndGlyphs" stroke="#161616" stroke-width="0.28">4ASK</text>
<text x="495.29" y="196.80" font-size="9.00" font-family='"Liberation Sans", sans-serif' font-weight="400" fill="#161616" text-anchor="end" textLength="19.19" lengthAdjust="spacingAndGlyphs" transform="rotate(-90 495.29 196.80)" stroke="#161616" stroke-width="0.29">4ASK</text>
<text x="390.00" y="113.42" font-size="8.60" font-family='"Liberation Sans", sans-serif' font-weight="400" fill="#161616" text-anchor="end" textLength="23.27" lengthAdjust="spacingAndGlyphs" stroke="#161616" stroke-width="0.28">16PSK</text>
<text x="503.07" y="196.80" font-size="9.00" font-family='"Liberation Sans", sans-serif' font-weight="400" fill="#161616" text-anchor="end" textLength="23.27" lengthAdjust="spacingAndGlyphs" transform="rotate(-90 503.07 196.80)" stroke="#161616" stroke-width="0.29">16PSK</text>
<text x="390.00" y="121.20" font-size="8.60" font-family='"Liberation Sans", sans-serif' font-weight="400" fill="#161616" text-anchor="end" textLength="28.30" lengthAdjust="spacingAndGlyphs" stroke="#161616" stroke-width="0.28">64APSK</text>
<text x="510.86" y="196.80" font-size="9.00" font-family='"Liberation Sans", sans-serif' font-weight="400" fill="#161616" text-anchor="end" textLength="28.30" lengthAdjust="spacingAndGlyphs" transform="rotate(-90 510.86 196.80)" stroke="#161616" stroke-width="0.29">64APSK</text>
<text x="390.00" y="128.98" font-size="8.60" font-family='"Liberation Sans", sans-serif' font-weight="400" fill="#161616" text-anchor="end" textLength="32.98" lengthAdjust="spacingAndGlyphs" stroke="#161616" stroke-width="0.28">128APSK</text>
<text x="518.64" y="196.80" font-size="9.00" font-family='"Liberation Sans", sans-serif' font-weight="400" fill="#161616" text-anchor="end" textLength="32.98" lengthAdjust="spacingAndGlyphs" transform="rotate(-90 518.64 196.80)" stroke="#161616" stroke-width="0.29">128APSK</text>
<text x="390.00" y="136.76" font-size="8.60" font-family='"Liberation Sans", sans-serif' font-weight="400" fill="#161616" text-anchor="end" textLength="31.18" lengthAdjust="spacingAndGlyphs" stroke="#161616" stroke-width="0.28">128QAM</text>
<text x="526.42" y="196.80" font-size="9.00" font-family='"Liberation Sans", sans-serif' font-weight="400" fill="#161616" text-anchor="end" textLength="31.18" lengthAdjust="spacingAndGlyphs" transform="rotate(-90 526.42 196.80)" stroke="#161616" stroke-width="0.29">128QAM</text>
<text x="390.00" y="144.54" font-size="8.60" font-family='"Liberation Sans", sans-serif' font-weight="400" fill="#161616" text-anchor="end" textLength="41.84" lengthAdjust="spacingAndGlyphs" stroke="#161616" stroke-width="0.28">AM-DSB-SC</text>
<text x="534.21" y="196.80" font-size="9.00" font-family='"Liberation Sans", sans-serif' font-weight="400" fill="#161616" text-anchor="end" textLength="41.84" lengthAdjust="spacingAndGlyphs" transform="rotate(-90 534.21 196.80)" stroke="#161616" stroke-width="0.29">AM-DSB-SC</text>
<text x="390.00" y="152.31" font-size="8.60" font-family='"Liberation Sans", sans-serif' font-weight="400" fill="#161616" text-anchor="end" textLength="43.15" lengthAdjust="spacingAndGlyphs" stroke="#161616" stroke-width="0.28">AM-SSB-WC</text>
<text x="541.99" y="196.80" font-size="9.00" font-family='"Liberation Sans", sans-serif' font-weight="400" fill="#161616" text-anchor="end" textLength="43.15" lengthAdjust="spacingAndGlyphs" transform="rotate(-90 541.99 196.80)" stroke="#161616" stroke-width="0.29">AM-SSB-WC</text>
<text x="390.00" y="160.09" font-size="8.60" font-family='"Liberation Sans", sans-serif' font-weight="400" fill="#161616" text-anchor="end" textLength="26.51" lengthAdjust="spacingAndGlyphs" stroke="#161616" stroke-width="0.28">64QAM</text>
<text x="549.77" y="196.80" font-size="9.00" font-family='"Liberation Sans", sans-serif' font-weight="400" fill="#161616" text-anchor="end" textLength="26.51" lengthAdjust="spacingAndGlyphs" transform="rotate(-90 549.77 196.80)" stroke="#161616" stroke-width="0.29">64QAM</text>
<text x="390.00" y="167.87" font-size="8.60" font-family='"Liberation Sans", sans-serif' font-weight="400" fill="#161616" text-anchor="end" textLength="19.70" lengthAdjust="spacingAndGlyphs" stroke="#161616" stroke-width="0.28">QPSK</text>
<text x="557.56" y="196.80" font-size="9.00" font-family='"Liberation Sans", sans-serif' font-weight="400" fill="#161616" text-anchor="end" textLength="19.70" lengthAdjust="spacingAndGlyphs" transform="rotate(-90 557.56 196.80)" stroke="#161616" stroke-width="0.29">QPSK</text>
<text x="390.00" y="175.65" font-size="8.60" font-family='"Liberation Sans", sans-serif' font-weight="400" fill="#161616" text-anchor="end" textLength="31.18" lengthAdjust="spacingAndGlyphs" stroke="#161616" stroke-width="0.28">256QAM</text>
<text x="565.34" y="196.80" font-size="9.00" font-family='"Liberation Sans", sans-serif' font-weight="400" fill="#161616" text-anchor="end" textLength="31.18" lengthAdjust="spacingAndGlyphs" transform="rotate(-90 565.34 196.80)" stroke="#161616" stroke-width="0.29">256QAM</text>
<text x="390.00" y="183.43" font-size="8.60" font-family='"Liberation Sans", sans-serif' font-weight="400" fill="#161616" text-anchor="end" textLength="44.14" lengthAdjust="spacingAndGlyphs" stroke="#161616" stroke-width="0.28">AM-DSB-WC</text>
<text x="573.12" y="196.80" font-size="9.00" font-family='"Liberation Sans", sans-serif' font-weight="400" fill="#161616" text-anchor="end" textLength="44.14" lengthAdjust="spacingAndGlyphs" transform="rotate(-90 573.12 196.80)" stroke="#161616" stroke-width="0.29">AM-DSB-WC</text>
<text x="390.00" y="191.21" font-size="8.60" font-family='"Liberation Sans", sans-serif' font-weight="400" fill="#161616" text-anchor="end" textLength="16.39" lengthAdjust="spacingAndGlyphs" stroke="#161616" stroke-width="0.28">OOK</text>
<text x="580.91" y="196.80" font-size="9.00" font-family='"Liberation Sans", sans-serif' font-weight="400" fill="#161616" text-anchor="end" textLength="16.39" lengthAdjust="spacingAndGlyphs" transform="rotate(-90 580.91 196.80)" stroke="#161616" stroke-width="0.29">OOK</text>
<linearGradient id="gb" x1="0" y1="1" x2="0" y2="0"><stop offset="0" stop-color="#ffffff"/><stop offset="1.0000" stop-color="#000000"/></linearGradient>
<rect x="595.20" y="4.80" width="9.70" height="186.40" fill="url(#gb)" stroke="#2e2e2e" stroke-width="1"/>
<line x1="604.90" y1="191.60" x2="607.90" y2="191.60" stroke="#2e2e2e" stroke-width="0.90"/>
<text x="609.50" y="194.90" font-size="8.20" font-family='"Liberation Sans", sans-serif' font-weight="400" fill="#161616" text-anchor="start" textLength="11.85" lengthAdjust="spacingAndGlyphs" stroke="#161616" stroke-width="0.18">0.0</text>
<line x1="604.90" y1="154.32" x2="607.90" y2="154.32" stroke="#2e2e2e" stroke-width="0.90"/>
<text x="609.50" y="157.62" font-size="8.20" font-family='"Liberation Sans", sans-serif' font-weight="400" fill="#161616" text-anchor="start" textLength="11.85" lengthAdjust="spacingAndGlyphs" stroke="#161616" stroke-width="0.18">0.2</text>
<line x1="604.90" y1="117.04" x2="607.90" y2="117.04" stroke="#2e2e2e" stroke-width="0.90"/>
<text x="609.50" y="120.34" font-size="8.20" font-family='"Liberation Sans", sans-serif' font-weight="400" fill="#161616" text-anchor="start" textLength="11.85" lengthAdjust="spacingAndGlyphs" stroke="#161616" stroke-width="0.18">0.4</text>
<line x1="604.90" y1="79.76" x2="607.90" y2="79.76" stroke="#2e2e2e" stroke-width="0.90"/>
<text x="609.50" y="83.06" font-size="8.20" font-family='"Liberation Sans", sans-serif' font-weight="400" fill="#161616" text-anchor="start" textLength="11.85" lengthAdjust="spacingAndGlyphs" stroke="#161616" stroke-width="0.18">0.6</text>
<line x1="604.90" y1="42.48" x2="607.90" y2="42.48" stroke="#2e2e2e" stroke-width="0.90"/>
<text x="609.50" y="45.78" font-size="8.20" font-family='"Liberation Sans", sans-serif' font-weight="400" fill="#161616" text-anchor="start" textLength="11.85" lengthAdjust="spacingAndGlyphs" stroke="#161616" stroke-width="0.18">0.8</text>
<line x1="604.90" y1="5.20" x2="607.90" y2="5.20" stroke="#2e2e2e" stroke-width="0.90"/>
<text x="609.50" y="8.50" font-size="8.20" font-family='"Liberation Sans", sans-serif' font-weight="400" fill="#161616" text-anchor="start" textLength="11.85" lengthAdjust="spacingAndGlyphs" stroke="#161616" stroke-width="0.18">1.0</text>
<text x="490.50" y="258.10" font-size="18.00" font-family='"Liberation Serif", serif' font-weight="400" fill="#2a2a2a" text-anchor="middle" textLength="279.00" lengthAdjust="spacingAndGlyphs">(b) The confusion matrix of the SOTA</text>
<text x="490.50" y="279.10" font-size="18.00" font-family='"Liberation Serif", serif' font-weight="400" fill="#2a2a2a" text-anchor="middle" textLength="281.00" lengthAdjust="spacingAndGlyphs">model for original data  under SNR&gt;10</text>
<clipPath id="cc"><rect x="43.00" y="307.60" width="262.60" height="195.70"/></clipPath>
<line x1="54.94" y1="307.60" x2="54.94" y2="503.30" stroke="#cbcbcb" stroke-width="1.00"/>
<line x1="102.68" y1="307.60" x2="102.68" y2="503.30" stroke="#cbcbcb" stroke-width="1.00"/>
<line x1="150.43" y1="307.60" x2="150.43" y2="503.30" stroke="#cbcbcb" stroke-width="1.00"/>
<line x1="198.17" y1="307.60" x2="198.17" y2="503.30" stroke="#cbcbcb" stroke-width="1.00"/>
<line x1="245.92" y1="307.60" x2="245.92" y2="503.30" stroke="#cbcbcb" stroke-width="1.00"/>
<line x1="293.66" y1="307.60" x2="293.66" y2="503.30" stroke="#cbcbcb" stroke-width="1.00"/>
<line x1="43.00" y1="503.30" x2="305.60" y2="503.30" stroke="#cbcbcb" stroke-width="1.00"/>
<line x1="43.00" y1="464.16" x2="305.60" y2="464.16" stroke="#cbcbcb" stroke-width="1.00"/>
<line x1="43.00" y1="425.02" x2="305.60" y2="425.02" stroke="#cbcbcb" stroke-width="1.00"/>
<line x1="43.00" y1="385.88" x2="305.60" y2="385.88" stroke="#cbcbcb" stroke-width="1.00"/>
<line x1="43.00" y1="346.74" x2="305.60" y2="346.74" stroke="#cbcbcb" stroke-width="1.00"/>
<line x1="43.00" y1="307.60" x2="305.60" y2="307.60" stroke="#cbcbcb" stroke-width="1.00"/>
<line x1="54.94" y1="503.30" x2="54.94" y2="506.30" stroke="#2e2e2e" stroke-width="0.90"/>
<line x1="102.68" y1="503.30" x2="102.68" y2="506.30" stroke="#2e2e2e" stroke-width="0.90"/>
<line x1="150.43" y1="503.30" x2="150.43" y2="506.30" stroke="#2e2e2e" stroke-width="0.90"/>
<line x1="198.17" y1="503.30" x2="198.17" y2="506.30" stroke="#2e2e2e" stroke-width="0.90"/>
<line x1="245.92" y1="503.30" x2="245.92" y2="506.30" stroke="#2e2e2e" stroke-width="0.90"/>
<line x1="293.66" y1="503.30" x2="293.66" y2="506.30" stroke="#2e2e2e" stroke-width="0.90"/>
<line x1="40.00" y1="503.30" x2="43.00" y2="503.30" stroke="#2e2e2e" stroke-width="0.90"/>
<line x1="40.00" y1="464.16" x2="43.00" y2="464.16" stroke="#2e2e2e" stroke-width="0.90"/>
<line x1="40.00" y1="425.02" x2="43.00" y2="425.02" stroke="#2e2e2e" stroke-width="0.90"/>
<line x1="40.00" y1="385.88" x2="43.00" y2="385.88" stroke="#2e2e2e" stroke-width="0.90"/>
<line x1="40.00" y1="346.74" x2="43.00" y2="346.74" stroke="#2e2e2e" stroke-width="0.90"/>
<line x1="40.00" y1="307.60" x2="43.00" y2="307.60" stroke="#2e2e2e" stroke-width="0.90"/>
<text x="54.94" y="514.50" font-size="8.30" font-family='"Liberation Sans", sans-serif' font-weight="400" fill="#161616" text-anchor="middle" textLength="14.77" lengthAdjust="spacingAndGlyphs" stroke="#161616" stroke-width="0.18">−20</text>
<text x="102.68" y="514.50" font-size="8.30" font-family='"Liberation Sans", sans-serif' font-weight="400" fill="#161616" text-anchor="middle" textLength="14.77" lengthAdjust="spacingAndGlyphs" stroke="#161616" stroke-width="0.18">−10</text>
<text x="150.43" y="514.50" font-size="8.30" font-family='"Liberation Sans", sans-serif' font-weight="400" fill="#161616" text-anchor="middle" textLength="4.45" lengthAdjust="spacingAndGlyphs" stroke="#161616" stroke-width="0.18">0</text>
<text x="198.17" y="514.50" font-size="8.30" font-family='"Liberation Sans", sans-serif' font-weight="400" fill="#161616" text-anchor="middle" textLength="8.91" lengthAdjust="spacingAndGlyphs" stroke="#161616" stroke-width="0.18">10</text>
<text x="245.92" y="514.50" font-size="8.30" font-family='"Liberation Sans", sans-serif' font-weight="400" fill="#161616" text-anchor="middle" textLength="8.91" lengthAdjust="spacingAndGlyphs" stroke="#161616" stroke-width="0.18">20</text>
<text x="293.66" y="514.50" font-size="8.30" font-family='"Liberation Sans", sans-serif' font-weight="400" fill="#161616" text-anchor="middle" textLength="8.91" lengthAdjust="spacingAndGlyphs" stroke="#161616" stroke-width="0.18">30</text>
<text x="37.40" y="506.30" font-size="8.30" font-family='"Liberation Sans", sans-serif' font-weight="400" fill="#161616" text-anchor="end" textLength="4.45" lengthAdjust="spacingAndGlyphs" stroke="#161616" stroke-width="0.18">0</text>
<text x="37.40" y="467.16" font-size="8.30" font-family='"Liberation Sans", sans-serif' font-weight="400" fill="#161616" text-anchor="end" textLength="8.91" lengthAdjust="spacingAndGlyphs" stroke="#161616" stroke-width="0.18">20</text>
<text x="37.40" y="428.02" font-size="8.30" font-family='"Liberation Sans", sans-serif' font-weight="400" fill="#161616" text-anchor="end" textLength="8.91" lengthAdjust="spacingAndGlyphs" stroke="#161616" stroke-width="0.18">40</text>
<text x="37.40" y="388.88" font-size="8.30" font-family='"Liberation Sans", sans-serif' font-weight="400" fill="#161616" text-anchor="end" textLength="8.91" lengthAdjust="spacingAndGlyphs" stroke="#161616" stroke-width="0.18">60</text>
<text x="37.40" y="349.74" font-size="8.30" font-family='"Liberation Sans", sans-serif' font-weight="400" fill="#161616" text-anchor="end" textLength="8.91" lengthAdjust="spacingAndGlyphs" stroke="#161616" stroke-width="0.18">80</text>
<text x="37.40" y="310.60" font-size="8.30" font-family='"Liberation Sans", sans-serif' font-weight="400" fill="#161616" text-anchor="end" textLength="13.36" lengthAdjust="spacingAndGlyphs" stroke="#161616" stroke-width="0.18">100</text>
<polyline points="54.94,494.49 64.49,494.49 74.03,492.93 83.58,491.56 93.13,485.30 102.68,476.68 112.23,469.05 121.78,456.92 131.33,440.87 140.88,421.89 150.43,400.75 159.98,383.14 169.53,361.22 179.07,342.43 188.62,329.32 198.17,323.26 207.72,319.73 217.27,318.75 226.82,318.75 236.37,318.75 245.92,317.78 255.47,319.15 265.02,319.15 274.57,317.78 284.11,318.56 293.66,319.54" fill="none" stroke="#4169e1" stroke-width="1.40" stroke-linejoin="round" clip-path="url(#cc)"/>
<g fill="#4169e1" clip-path="url(#cc)">
<circle cx="54.94" cy="494.49" r="2.80"/>
<circle cx="64.49" cy="494.49" r="2.80"/>
<circle cx="74.03" cy="492.93" r="2.80"/>
<circle cx="83.58" cy="491.56" r="2.80"/>
<circle cx="93.13" cy="485.30" r="2.80"/>
<circle cx="102.68" cy="476.68" r="2.80"/>
<circle cx="112.23" cy="469.05" r="2.80"/>
<circle cx="121.78" cy="456.92" r="2.80"/>
<circle cx="131.33" cy="440.87" r="2.80"/>
<circle cx="140.88" cy="421.89" r="2.80"/>
<circle cx="150.43" cy="400.75" r="2.80"/>
<circle cx="159.98" cy="383.14" r="2.80"/>
<circle cx="169.53" cy="361.22" r="2.80"/>
<circle cx="179.07" cy="342.43" r="2.80"/>
<circle cx="188.62" cy="329.32" r="2.80"/>
<circle cx="198.17" cy="323.26" r="2.80"/>
<circle cx="207.72" cy="319.73" r="2.80"/>
<circle cx="217.27" cy="318.75" r="2.80"/>
<circle cx="226.82" cy="318.75" r="2.80"/>
<circle cx="236.37" cy="318.75" r="2.80"/>
<circle cx="245.92" cy="317.78" r="2.80"/>
<circle cx="255.47" cy="319.15" r="2.80"/>
<circle cx="265.02" cy="319.15" r="2.80"/>
<circle cx="274.57" cy="317.78" r="2.80"/>
<circle cx="284.11" cy="318.56" r="2.80"/>
<circle cx="293.66" cy="319.54" r="2.80"/>
</g>
<polyline points="54.94,503.30 64.49,503.30 74.03,503.30 83.58,503.30 93.13,503.30 102.68,503.30 112.23,503.30 121.78,503.30 131.33,503.30 140.88,503.30 150.43,503.30 159.98,503.30 169.53,503.30 179.07,503.30 188.62,503.30 198.17,503.30 207.72,503.30 217.27,503.30 226.82,503.30 236.37,503.30 245.92,503.30 255.47,503.30 265.02,503.30 274.57,503.30 284.11,503.30 293.66,503.30" fill="none" stroke="#ff8811" stroke-width="1.40" stroke-linejoin="round" clip-path="url(#cc)"/>
<g fill="#ff8811" clip-path="url(#cc)">
<circle cx="54.94" cy="503.30" r="2.80"/>
<circle cx="64.49" cy="503.30" r="2.80"/>
<circle cx="74.03" cy="503.30" r="2.80"/>
<circle cx="83.58" cy="503.30" r="2.80"/>
<circle cx="93.13" cy="503.30" r="2.80"/>
<circle cx="102.68" cy="503.30" r="2.80"/>
<circle cx="112.23" cy="503.30" r="2.80"/>
<circle cx="121.78" cy="503.30" r="2.80"/>
<circle cx="131.33" cy="503.30" r="2.80"/>
<circle cx="140.88" cy="503.30" r="2.80"/>
<circle cx="150.43" cy="503.30" r="2.80"/>
<circle cx="159.98" cy="503.30" r="2.80"/>
<circle cx="169.53" cy="503.30" r="2.80"/>
<circle cx="179.07" cy="503.30" r="2.80"/>
<circle cx="188.62" cy="503.30" r="2.80"/>
<circle cx="198.17" cy="503.30" r="2.80"/>
<circle cx="207.72" cy="503.30" r="2.80"/>
<circle cx="217.27" cy="503.30" r="2.80"/>
<circle cx="226.82" cy="503.30" r="2.80"/>
<circle cx="236.37" cy="503.30" r="2.80"/>
<circle cx="245.92" cy="503.30" r="2.80"/>
<circle cx="255.47" cy="503.30" r="2.80"/>
<circle cx="265.02" cy="503.30" r="2.80"/>
<circle cx="274.57" cy="503.30" r="2.80"/>
<circle cx="284.11" cy="503.30" r="2.80"/>
<circle cx="293.66" cy="503.30" r="2.80"/>
</g>
<rect x="43.00" y="307.60" width="262.60" height="195.70" fill="none" stroke="#2e2e2e" stroke-width="1"/>
<rect x="45.9" y="311.6" width="89.4" height="23.4" rx="1.8" fill="#fff" fill-opacity="0.8" stroke="#cccccc" stroke-width="0.9"/>
<line x1="48.80" y1="317.00" x2="65.00" y2="317.00" stroke="#4169e1" stroke-width="1.30"/>
<circle cx="56.9" cy="317.00" r="2.75" fill="#4169e1"/>
<text x="70.00" y="319.90" font-size="8.00" font-family='"Liberation Sans", sans-serif' font-weight="400" fill="#161616" text-anchor="start" textLength="28.76" lengthAdjust="spacingAndGlyphs" stroke="#161616" stroke-width="0.18">Original</text>
<line x1="48.80" y1="328.10" x2="65.00" y2="328.10" stroke="#ff8811" stroke-width="1.30"/>
<circle cx="56.9" cy="328.10" r="2.75" fill="#ff8811"/>
<text x="70.00" y="331.00" font-size="8.00" font-family='"Liberation Sans", sans-serif' font-weight="400" fill="#161616" text-anchor="start" textLength="62.14" lengthAdjust="spacingAndGlyphs" stroke="#161616" stroke-width="0.18">LIW(K=100,β=1)</text>
<text x="19.00" y="405.50" font-size="10.20" font-family='"Liberation Sans", sans-serif' font-weight="400" fill="#161616" text-anchor="middle" textLength="64.50" lengthAdjust="spacingAndGlyphs" transform="rotate(-90 19.00 405.50)" stroke="#161616" stroke-width="0.22">Accuracy(%)</text>
<text x="174.20" y="527.50" font-size="10.90" font-family='"Liberation Sans", sans-serif' font-weight="400" fill="#161616" text-anchor="middle" textLength="41.79" lengthAdjust="spacingAndGlyphs" stroke="#161616" stroke-width="0.24">SNR(dB)</text>
<line x1="234.50" y1="322.70" x2="234.50" y2="502.50" stroke="#000" stroke-width="1.50" stroke-dasharray="9.1,4.5"/>
<circle cx="234.5" cy="404.3" r="3.1" fill="#fff" stroke="#000" stroke-width="0.9"/>
<circle cx="234.5" cy="502.5" r="3.1" fill="#fff" stroke="#000" stroke-width="0.9"/>
<line x1="233.10" y1="498.10" x2="219.63" y2="484.98" stroke="#000" stroke-width="1.50"/>
<path d="M213.90,479.40 L222.21,482.33 L217.05,487.63 Z" fill="#000"/>
<line x1="235.60" y1="498.10" x2="248.73" y2="485.04" stroke="#000" stroke-width="1.50"/>
<path d="M254.40,479.40 L251.34,487.67 L246.12,482.42 Z" fill="#000"/>
<text x="243.00" y="400.00" font-size="12.50" font-family='"Liberation Serif", serif' font-weight="400" fill="#262626" text-anchor="start" textLength="59.50" lengthAdjust="spacingAndGlyphs">-20dB PSR</text>
<text x="243.00" y="416.30" font-size="12.50" font-family='"Liberation Serif", serif' font-weight="400" fill="#262626" text-anchor="start" textLength="42.00" lengthAdjust="spacingAndGlyphs">50% [8]</text>
<text x="163.00" y="459.50" font-size="12.50" font-family='"Liberation Serif", serif' font-weight="400" fill="#262626" text-anchor="start" textLength="60.70" lengthAdjust="spacingAndGlyphs">-20dB PSR</text>
<text x="173.8" y="476.3" font-size="12.5" font-family='"Liberation Serif", serif' fill="#262626" textLength="50" lengthAdjust="spacingAndGlyphs"><tspan font-weight="700">Ours</tspan> 0%</text>
<text x="243.00" y="459.50" font-size="12.50" font-family='"Liberation Serif", serif' font-weight="400" fill="#262626" text-anchor="start" textLength="52.50" lengthAdjust="spacingAndGlyphs">-5dB PSR</text>
<text x="243.00" y="476.30" font-size="12.50" font-family='"Liberation Serif", serif' font-weight="400" fill="#262626" text-anchor="start" textLength="35.00" lengthAdjust="spacingAndGlyphs">0% [8]</text>
<text x="167.00" y="563.10" font-size="18.00" font-family='"Liberation Serif", serif' font-weight="400" fill="#2a2a2a" text-anchor="middle" textLength="270.00" lengthAdjust="spacingAndGlyphs">(c) The accuracy of the SOTA Model</text>
<text x="168.25" y="583.10" font-size="18.00" font-family='"Liberation Serif", serif' font-weight="400" fill="#2a2a2a" text-anchor="middle" textLength="211.50" lengthAdjust="spacingAndGlyphs">for the original data and LIW</text>
<rect x="399.41" y="303.40" width="7.91" height="7.89" fill="#9e9e9e"/>
<rect x="415.23" y="303.40" width="7.91" height="7.89" fill="#f2f2f2"/>
<rect x="423.13" y="303.40" width="7.91" height="7.89" fill="#f5f5f5"/>
<rect x="470.58" y="303.40" width="7.91" height="7.89" fill="#c7c7c7"/>
<rect x="557.57" y="303.40" width="7.91" height="7.89" fill="#fafafa"/>
<rect x="407.32" y="311.29" width="7.91" height="7.89" fill="#010101"/>
<rect x="399.41" y="319.18" width="7.91" height="7.89" fill="#010101"/>
<rect x="423.13" y="327.07" width="7.91" height="7.89" fill="#060606"/>
<rect x="431.04" y="327.07" width="7.91" height="7.89" fill="#eaeaea"/>
<rect x="478.49" y="334.97" width="7.91" height="7.89" fill="#f7f7f7"/>
<rect x="494.31" y="334.97" width="7.91" height="7.89" fill="#f7f7f7"/>
<rect x="502.22" y="334.97" width="7.91" height="7.89" fill="#e5e5e5"/>
<rect x="510.12" y="334.97" width="7.91" height="7.89" fill="#939393"/>
<rect x="518.03" y="334.97" width="7.91" height="7.89" fill="#eaeaea"/>
<rect x="525.94" y="334.97" width="7.91" height="7.89" fill="#f7f7f7"/>
<rect x="415.23" y="342.86" width="7.91" height="7.89" fill="#f2f2f2"/>
<rect x="423.13" y="342.86" width="7.91" height="7.89" fill="#989898"/>
<rect x="438.95" y="342.86" width="7.91" height="7.89" fill="#d9d9d9"/>
<rect x="533.85" y="342.86" width="7.91" height="7.89" fill="#f7f7f7"/>
<rect x="431.04" y="350.75" width="7.91" height="7.89" fill="#f7f7f7"/>
<rect x="446.86" y="350.75" width="7.91" height="7.89" fill="#f0f0f0"/>
<rect x="454.77" y="350.75" width="7.91" height="7.89" fill="#323232"/>
<rect x="438.95" y="358.64" width="7.91" height="7.89" fill="#e0e0e0"/>
<rect x="454.77" y="358.64" width="7.91" height="7.89" fill="#373737"/>
<rect x="446.86" y="366.53" width="7.91" height="7.89" fill="#010101"/>
<rect x="423.13" y="374.43" width="7.91" height="7.89" fill="#f0f0f0"/>
<rect x="431.04" y="374.43" width="7.91" height="7.89" fill="#f5f5f5"/>
<rect x="438.95" y="374.43" width="7.91" height="7.89" fill="#f0f0f0"/>
<rect x="446.86" y="374.43" width="7.91" height="7.89" fill="#f0f0f0"/>
<rect x="454.77" y="374.43" width="7.91" height="7.89" fill="#f0f0f0"/>
<rect x="470.58" y="374.43" width="7.91" height="7.89" fill="#f0f0f0"/>
<rect x="478.49" y="374.43" width="7.91" height="7.89" fill="#e5e5e5"/>
<rect x="486.40" y="374.43" width="7.91" height="7.89" fill="#f0f0f0"/>
<rect x="502.22" y="374.43" width="7.91" height="7.89" fill="#eaeaea"/>
<rect x="510.12" y="374.43" width="7.91" height="7.89" fill="#f2f2f2"/>
<rect x="478.49" y="382.32" width="7.91" height="7.89" fill="#f2f2f2"/>
<rect x="486.40" y="382.32" width="7.91" height="7.89" fill="#8c8c8c"/>
<rect x="502.22" y="382.32" width="7.91" height="7.89" fill="#b7b7b7"/>
<rect x="486.40" y="390.21" width="7.91" height="7.89" fill="#464646"/>
<rect x="502.22" y="390.21" width="7.91" height="7.89" fill="#e5e5e5"/>
<rect x="478.49" y="398.10" width="7.91" height="7.89" fill="#464646"/>
<rect x="510.12" y="398.10" width="7.91" height="7.89" fill="#f2f2f2"/>
<rect x="486.40" y="405.99" width="7.91" height="7.89" fill="#f2f2f2"/>
<rect x="502.22" y="405.99" width="7.91" height="7.89" fill="#f0f0f0"/>
<rect x="510.12" y="405.99" width="7.91" height="7.89" fill="#9e9e9e"/>
<rect x="518.03" y="405.99" width="7.91" height="7.89" fill="#f0f0f0"/>
<rect x="525.94" y="405.99" width="7.91" height="7.89" fill="#f0f0f0"/>
<rect x="478.49" y="413.88" width="7.91" height="7.89" fill="#f2f2f2"/>
<rect x="510.12" y="413.88" width="7.91" height="7.89" fill="#373737"/>
<rect x="518.03" y="413.88" width="7.91" height="7.89" fill="#f0f0f0"/>
<rect x="486.40" y="421.77" width="7.91" height="7.89" fill="#f0f0f0"/>
<rect x="502.22" y="421.77" width="7.91" height="7.89" fill="#f0f0f0"/>
<rect x="510.12" y="421.77" width="7.91" height="7.89" fill="#f0f0f0"/>
<rect x="518.03" y="421.77" width="7.91" height="7.89" fill="#c7c7c7"/>
<rect x="525.94" y="421.77" width="7.91" height="7.89" fill="#727272"/>
<rect x="510.12" y="429.67" width="7.91" height="7.89" fill="#e5e5e5"/>
<rect x="525.94" y="429.67" width="7.91" height="7.89" fill="#464646"/>
<rect x="510.12" y="437.56" width="7.91" height="7.89" fill="#b7b7b7"/>
<rect x="518.03" y="437.56" width="7.91" height="7.89" fill="#939393"/>
<rect x="541.76" y="445.45" width="7.91" height="7.89" fill="#010101"/>
<rect x="533.85" y="453.34" width="7.91" height="7.89" fill="#010101"/>
<rect x="557.57" y="461.23" width="7.91" height="7.89" fill="#010101"/>
<rect x="549.67" y="469.12" width="7.91" height="7.89" fill="#010101"/>
<rect x="431.04" y="477.02" width="7.91" height="7.89" fill="#f7f7f7"/>
<rect x="573.39" y="477.02" width="7.91" height="7.89" fill="#323232"/>
<rect x="438.95" y="484.91" width="7.91" height="7.89" fill="#7f7f7f"/>
<rect x="565.48" y="484.91" width="7.91" height="7.89" fill="#bfbfbf"/>
<line x1="399.41" y1="303.40" x2="399.41" y2="492.80" stroke="#cdcdcd" stroke-width="1.00" stroke-opacity="0.85"/>
<line x1="391.50" y1="311.29" x2="581.30" y2="311.29" stroke="#cdcdcd" stroke-width="1.00" stroke-opacity="0.85"/>
<line x1="407.32" y1="303.40" x2="407.32" y2="492.80" stroke="#cdcdcd" stroke-width="1.00" stroke-opacity="0.85"/>
<line x1="391.50" y1="319.18" x2="581.30" y2="319.18" stroke="#cdcdcd" stroke-width="1.00" stroke-opacity="0.85"/>
<line x1="415.23" y1="303.40" x2="415.23" y2="492.80" stroke="#cdcdcd" stroke-width="1.00" stroke-opacity="0.85"/>
<line x1="391.50" y1="327.07" x2="581.30" y2="327.07" stroke="#cdcdcd" stroke-width="1.00" stroke-opacity="0.85"/>
<line x1="423.13" y1="303.40" x2="423.13" y2="492.80" stroke="#cdcdcd" stroke-width="1.00" stroke-opacity="0.85"/>
<line x1="391.50" y1="334.97" x2="581.30" y2="334.97" stroke="#cdcdcd" stroke-width="1.00" stroke-opacity="0.85"/>
<line x1="431.04" y1="303.40" x2="431.04" y2="492.80" stroke="#cdcdcd" stroke-width="1.00" stroke-opacity="0.85"/>
<line x1="391.50" y1="342.86" x2="581.30" y2="342.86" stroke="#cdcdcd" stroke-width="1.00" stroke-opacity="0.85"/>
<line x1="438.95" y1="303.40" x2="438.95" y2="492.80" stroke="#cdcdcd" stroke-width="1.00" stroke-opacity="0.85"/>
<line x1="391.50" y1="350.75" x2="581.30" y2="350.75" stroke="#cdcdcd" stroke-width="1.00" stroke-opacity="0.85"/>
<line x1="446.86" y1="303.40" x2="446.86" y2="492.80" stroke="#cdcdcd" stroke-width="1.00" stroke-opacity="0.85"/>
<line x1="391.50" y1="358.64" x2="581.30" y2="358.64" stroke="#cdcdcd" stroke-width="1.00" stroke-opacity="0.85"/>
<line x1="454.77" y1="303.40" x2="454.77" y2="492.80" stroke="#cdcdcd" stroke-width="1.00" stroke-opacity="0.85"/>
<line x1="391.50" y1="366.53" x2="581.30" y2="366.53" stroke="#cdcdcd" stroke-width="1.00" stroke-opacity="0.85"/>
<line x1="462.67" y1="303.40" x2="462.67" y2="492.80" stroke="#cdcdcd" stroke-width="1.00" stroke-opacity="0.85"/>
<line x1="391.50" y1="374.43" x2="581.30" y2="374.43" stroke="#cdcdcd" stroke-width="1.00" stroke-opacity="0.85"/>
<line x1="470.58" y1="303.40" x2="470.58" y2="492.80" stroke="#cdcdcd" stroke-width="1.00" stroke-opacity="0.85"/>
<line x1="391.50" y1="382.32" x2="581.30" y2="382.32" stroke="#cdcdcd" stroke-width="1.00" stroke-opacity="0.85"/>
<line x1="478.49" y1="303.40" x2="478.49" y2="492.80" stroke="#cdcdcd" stroke-width="1.00" stroke-opacity="0.85"/>
<line x1="391.50" y1="390.21" x2="581.30" y2="390.21" stroke="#cdcdcd" stroke-width="1.00" stroke-opacity="0.85"/>
<line x1="486.40" y1="303.40" x2="486.40" y2="492.80" stroke="#cdcdcd" stroke-width="1.00" stroke-opacity="0.85"/>
<line x1="391.50" y1="398.10" x2="581.30" y2="398.10" stroke="#cdcdcd" stroke-width="1.00" stroke-opacity="0.85"/>
<line x1="494.31" y1="303.40" x2="494.31" y2="492.80" stroke="#cdcdcd" stroke-width="1.00" stroke-opacity="0.85"/>
<line x1="391.50" y1="405.99" x2="581.30" y2="405.99" stroke="#cdcdcd" stroke-width="1.00" stroke-opacity="0.85"/>
<line x1="502.22" y1="303.40" x2="502.22" y2="492.80" stroke="#cdcdcd" stroke-width="1.00" stroke-opacity="0.85"/>
<line x1="391.50" y1="413.88" x2="581.30" y2="413.88" stroke="#cdcdcd" stroke-width="1.00" stroke-opacity="0.85"/>
<line x1="510.12" y1="303.40" x2="510.12" y2="492.80" stroke="#cdcdcd" stroke-width="1.00" stroke-opacity="0.85"/>
<line x1="391.50" y1="421.77" x2="581.30" y2="421.77" stroke="#cdcdcd" stroke-width="1.00" stroke-opacity="0.85"/>
<line x1="518.03" y1="303.40" x2="518.03" y2="492.80" stroke="#cdcdcd" stroke-width="1.00" stroke-opacity="0.85"/>
<line x1="391.50" y1="429.67" x2="581.30" y2="429.67" stroke="#cdcdcd" stroke-width="1.00" stroke-opacity="0.85"/>
<line x1="525.94" y1="303.40" x2="525.94" y2="492.80" stroke="#cdcdcd" stroke-width="1.00" stroke-opacity="0.85"/>
<line x1="391.50" y1="437.56" x2="581.30" y2="437.56" stroke="#cdcdcd" stroke-width="1.00" stroke-opacity="0.85"/>
<line x1="533.85" y1="303.40" x2="533.85" y2="492.80" stroke="#cdcdcd" stroke-width="1.00" stroke-opacity="0.85"/>
<line x1="391.50" y1="445.45" x2="581.30" y2="445.45" stroke="#cdcdcd" stroke-width="1.00" stroke-opacity="0.85"/>
<line x1="541.76" y1="303.40" x2="541.76" y2="492.80" stroke="#cdcdcd" stroke-width="1.00" stroke-opacity="0.85"/>
<line x1="391.50" y1="453.34" x2="581.30" y2="453.34" stroke="#cdcdcd" stroke-width="1.00" stroke-opacity="0.85"/>
<line x1="549.67" y1="303.40" x2="549.67" y2="492.80" stroke="#cdcdcd" stroke-width="1.00" stroke-opacity="0.85"/>
<line x1="391.50" y1="461.23" x2="581.30" y2="461.23" stroke="#cdcdcd" stroke-width="1.00" stroke-opacity="0.85"/>
<line x1="557.57" y1="303.40" x2="557.57" y2="492.80" stroke="#cdcdcd" stroke-width="1.00" stroke-opacity="0.85"/>
<line x1="391.50" y1="469.12" x2="581.30" y2="469.12" stroke="#cdcdcd" stroke-width="1.00" stroke-opacity="0.85"/>
<line x1="565.48" y1="303.40" x2="565.48" y2="492.80" stroke="#cdcdcd" stroke-width="1.00" stroke-opacity="0.85"/>
<line x1="391.50" y1="477.02" x2="581.30" y2="477.02" stroke="#cdcdcd" stroke-width="1.00" stroke-opacity="0.85"/>
<line x1="573.39" y1="303.40" x2="573.39" y2="492.80" stroke="#cdcdcd" stroke-width="1.00" stroke-opacity="0.85"/>
<line x1="391.50" y1="484.91" x2="581.30" y2="484.91" stroke="#cdcdcd" stroke-width="1.00" stroke-opacity="0.85"/>
<text x="403.36" y="309.05" font-size="4.80" font-family='"Liberation Sans", sans-serif' font-weight="700" fill="#f51414" text-anchor="middle" textLength="7.28" lengthAdjust="spacingAndGlyphs" stroke="#f51414" stroke-width="0.1">0.66</text>
<text x="474.54" y="309.05" font-size="4.80" font-family='"Liberation Sans", sans-serif' font-weight="700" fill="#f51414" text-anchor="middle" textLength="7.28" lengthAdjust="spacingAndGlyphs" stroke="#f51414" stroke-width="0.1">0.32</text>
<text x="561.53" y="309.05" font-size="4.80" font-family='"Liberation Sans", sans-serif' font-weight="700" fill="#f51414" text-anchor="middle" textLength="7.28" lengthAdjust="spacingAndGlyphs" stroke="#f51414" stroke-width="0.1">0.11</text>
<text x="411.27" y="316.94" font-size="4.80" font-family='"Liberation Sans", sans-serif' font-weight="700" fill="#f51414" text-anchor="middle" textLength="7.28" lengthAdjust="spacingAndGlyphs" stroke="#f51414" stroke-width="0.1">0.99</text>
<text x="403.36" y="324.83" font-size="4.80" font-family='"Liberation Sans", sans-serif' font-weight="700" fill="#f51414" text-anchor="middle" textLength="7.28" lengthAdjust="spacingAndGlyphs" stroke="#f51414" stroke-width="0.1">0.99</text>
<text x="427.09" y="332.72" font-size="4.80" font-family='"Liberation Sans", sans-serif' font-weight="700" fill="#f51414" text-anchor="middle" textLength="7.28" lengthAdjust="spacingAndGlyphs" stroke="#f51414" stroke-width="0.1">0.92</text>
<text x="498.26" y="340.61" font-size="4.80" font-family='"Liberation Sans", sans-serif' font-weight="700" fill="#f51414" text-anchor="middle" textLength="7.28" lengthAdjust="spacingAndGlyphs" stroke="#f51414" stroke-width="0.1">0.12</text>
<text x="514.08" y="340.61" font-size="4.80" font-family='"Liberation Sans", sans-serif' font-weight="700" fill="#f51414" text-anchor="middle" textLength="7.28" lengthAdjust="spacingAndGlyphs" stroke="#f51414" stroke-width="0.1">0.45</text>
<text x="529.90" y="340.61" font-size="4.80" font-family='"Liberation Sans", sans-serif' font-weight="700" fill="#f51414" text-anchor="middle" textLength="7.28" lengthAdjust="spacingAndGlyphs" stroke="#f51414" stroke-width="0.1">0.18</text>
<text x="427.09" y="348.50" font-size="4.80" font-family='"Liberation Sans", sans-serif' font-weight="700" fill="#f51414" text-anchor="middle" textLength="7.28" lengthAdjust="spacingAndGlyphs" stroke="#f51414" stroke-width="0.1">0.48</text>
<text x="442.90" y="348.50" font-size="4.80" font-family='"Liberation Sans", sans-serif' font-weight="700" fill="#f51414" text-anchor="middle" textLength="7.28" lengthAdjust="spacingAndGlyphs" stroke="#f51414" stroke-width="0.1">0.33</text>
<text x="537.80" y="348.50" font-size="4.80" font-family='"Liberation Sans", sans-serif' font-weight="700" fill="#f51414" text-anchor="middle" textLength="7.28" lengthAdjust="spacingAndGlyphs" stroke="#f51414" stroke-width="0.1">0.16</text>
<text x="435.00" y="356.40" font-size="4.80" font-family='"Liberation Sans", sans-serif' font-weight="700" fill="#f51414" text-anchor="middle" textLength="7.28" lengthAdjust="spacingAndGlyphs" stroke="#f51414" stroke-width="0.1">0.11</text>
<text x="458.72" y="356.40" font-size="4.80" font-family='"Liberation Sans", sans-serif' font-weight="700" fill="#f51414" text-anchor="middle" textLength="7.28" lengthAdjust="spacingAndGlyphs" stroke="#f51414" stroke-width="0.1">0.78</text>
<text x="442.90" y="364.29" font-size="4.80" font-family='"Liberation Sans", sans-serif' font-weight="700" fill="#f51414" text-anchor="middle" textLength="7.28" lengthAdjust="spacingAndGlyphs" stroke="#f51414" stroke-width="0.1">0.20</text>
<text x="458.72" y="364.29" font-size="4.80" font-family='"Liberation Sans", sans-serif' font-weight="700" fill="#f51414" text-anchor="middle" textLength="7.28" lengthAdjust="spacingAndGlyphs" stroke="#f51414" stroke-width="0.1">0.79</text>
<text x="450.81" y="372.18" font-size="4.80" font-family='"Liberation Sans", sans-serif' font-weight="700" fill="#f51414" text-anchor="middle" textLength="7.28" lengthAdjust="spacingAndGlyphs" stroke="#f51414" stroke-width="0.1">0.99</text>
<text x="442.90" y="380.07" font-size="4.80" font-family='"Liberation Sans", sans-serif' font-weight="700" fill="#f51414" text-anchor="middle" textLength="7.28" lengthAdjust="spacingAndGlyphs" stroke="#f51414" stroke-width="0.1">0.13</text>
<text x="450.81" y="380.07" font-size="4.80" font-family='"Liberation Sans", sans-serif' font-weight="700" fill="#f51414" text-anchor="middle" textLength="7.28" lengthAdjust="spacingAndGlyphs" stroke="#f51414" stroke-width="0.1">0.11</text>
<text x="482.45" y="380.07" font-size="4.80" font-family='"Liberation Sans", sans-serif' font-weight="700" fill="#f51414" text-anchor="middle" textLength="7.28" lengthAdjust="spacingAndGlyphs" stroke="#f51414" stroke-width="0.1">0.25</text>
<text x="506.17" y="380.07" font-size="4.80" font-family='"Liberation Sans", sans-serif' font-weight="700" fill="#f51414" text-anchor="middle" textLength="7.28" lengthAdjust="spacingAndGlyphs" stroke="#f51414" stroke-width="0.1">0.18</text>
<text x="482.45" y="387.96" font-size="4.80" font-family='"Liberation Sans", sans-serif' font-weight="700" fill="#f51414" text-anchor="middle" textLength="7.28" lengthAdjust="spacingAndGlyphs" stroke="#f51414" stroke-width="0.1">0.19</text>
<text x="490.35" y="387.96" font-size="4.80" font-family='"Liberation Sans", sans-serif' font-weight="700" fill="#f51414" text-anchor="middle" textLength="7.28" lengthAdjust="spacingAndGlyphs" stroke="#f51414" stroke-width="0.1">0.42</text>
<text x="506.17" y="387.96" font-size="4.80" font-family='"Liberation Sans", sans-serif' font-weight="700" fill="#f51414" text-anchor="middle" textLength="7.28" lengthAdjust="spacingAndGlyphs" stroke="#f51414" stroke-width="0.1">0.38</text>
<text x="490.35" y="395.85" font-size="4.80" font-family='"Liberation Sans", sans-serif' font-weight="700" fill="#f51414" text-anchor="middle" textLength="7.28" lengthAdjust="spacingAndGlyphs" stroke="#f51414" stroke-width="0.1">0.62</text>
<text x="506.17" y="395.85" font-size="4.80" font-family='"Liberation Sans", sans-serif' font-weight="700" fill="#f51414" text-anchor="middle" textLength="7.28" lengthAdjust="spacingAndGlyphs" stroke="#f51414" stroke-width="0.1">0.31</text>
<text x="482.45" y="403.75" font-size="4.80" font-family='"Liberation Sans", sans-serif' font-weight="700" fill="#f51414" text-anchor="middle" textLength="7.28" lengthAdjust="spacingAndGlyphs" stroke="#f51414" stroke-width="0.1">0.75</text>
<text x="514.08" y="403.75" font-size="4.80" font-family='"Liberation Sans", sans-serif' font-weight="700" fill="#f51414" text-anchor="middle" textLength="7.28" lengthAdjust="spacingAndGlyphs" stroke="#f51414" stroke-width="0.1">0.22</text>
<text x="490.35" y="411.64" font-size="4.80" font-family='"Liberation Sans", sans-serif' font-weight="700" fill="#f51414" text-anchor="middle" textLength="7.28" lengthAdjust="spacingAndGlyphs" stroke="#f51414" stroke-width="0.1">0.12</text>
<text x="506.17" y="411.64" font-size="4.80" font-family='"Liberation Sans", sans-serif' font-weight="700" fill="#f51414" text-anchor="middle" textLength="7.28" lengthAdjust="spacingAndGlyphs" stroke="#f51414" stroke-width="0.1">0.14</text>
<text x="514.08" y="411.64" font-size="4.80" font-family='"Liberation Sans", sans-serif' font-weight="700" fill="#f51414" text-anchor="middle" textLength="7.28" lengthAdjust="spacingAndGlyphs" stroke="#f51414" stroke-width="0.1">0.53</text>
<text x="529.90" y="411.64" font-size="4.80" font-family='"Liberation Sans", sans-serif' font-weight="700" fill="#f51414" text-anchor="middle" textLength="7.28" lengthAdjust="spacingAndGlyphs" stroke="#f51414" stroke-width="0.1">0.15</text>
<text x="482.45" y="419.53" font-size="4.80" font-family='"Liberation Sans", sans-serif' font-weight="700" fill="#f51414" text-anchor="middle" textLength="7.28" lengthAdjust="spacingAndGlyphs" stroke="#f51414" stroke-width="0.1">0.15</text>
<text x="514.08" y="419.53" font-size="4.80" font-family='"Liberation Sans", sans-serif' font-weight="700" fill="#f51414" text-anchor="middle" textLength="7.28" lengthAdjust="spacingAndGlyphs" stroke="#f51414" stroke-width="0.1">0.77</text>
<text x="506.17" y="427.42" font-size="4.80" font-family='"Liberation Sans", sans-serif' font-weight="700" fill="#f51414" text-anchor="middle" textLength="7.28" lengthAdjust="spacingAndGlyphs" stroke="#f51414" stroke-width="0.1">0.15</text>
<text x="521.99" y="427.42" font-size="4.80" font-family='"Liberation Sans", sans-serif' font-weight="700" fill="#f51414" text-anchor="middle" textLength="7.28" lengthAdjust="spacingAndGlyphs" stroke="#f51414" stroke-width="0.1">0.38</text>
<text x="529.90" y="427.42" font-size="4.80" font-family='"Liberation Sans", sans-serif' font-weight="700" fill="#f51414" text-anchor="middle" textLength="7.28" lengthAdjust="spacingAndGlyphs" stroke="#f51414" stroke-width="0.1">0.43</text>
<text x="514.08" y="435.31" font-size="4.80" font-family='"Liberation Sans", sans-serif' font-weight="700" fill="#f51414" text-anchor="middle" textLength="7.28" lengthAdjust="spacingAndGlyphs" stroke="#f51414" stroke-width="0.1">0.30</text>
<text x="529.90" y="435.31" font-size="4.80" font-family='"Liberation Sans", sans-serif' font-weight="700" fill="#f51414" text-anchor="middle" textLength="7.28" lengthAdjust="spacingAndGlyphs" stroke="#f51414" stroke-width="0.1">0.60</text>
<text x="514.08" y="443.20" font-size="4.80" font-family='"Liberation Sans", sans-serif' font-weight="700" fill="#f51414" text-anchor="middle" textLength="7.28" lengthAdjust="spacingAndGlyphs" stroke="#f51414" stroke-width="0.1">0.46</text>
<text x="521.99" y="443.20" font-size="4.80" font-family='"Liberation Sans", sans-serif' font-weight="700" fill="#f51414" text-anchor="middle" textLength="7.28" lengthAdjust="spacingAndGlyphs" stroke="#f51414" stroke-width="0.1">0.53</text>
<text x="545.71" y="451.10" font-size="4.80" font-family='"Liberation Sans", sans-serif' font-weight="700" fill="#f51414" text-anchor="middle" textLength="7.28" lengthAdjust="spacingAndGlyphs" stroke="#f51414" stroke-width="0.1">1.00</text>
<text x="537.80" y="458.99" font-size="4.80" font-family='"Liberation Sans", sans-serif' font-weight="700" fill="#f51414" text-anchor="middle" textLength="7.28" lengthAdjust="spacingAndGlyphs" stroke="#f51414" stroke-width="0.1">0.99</text>
<text x="561.53" y="466.88" font-size="4.80" font-family='"Liberation Sans", sans-serif' font-weight="700" fill="#f51414" text-anchor="middle" textLength="7.28" lengthAdjust="spacingAndGlyphs" stroke="#f51414" stroke-width="0.1">1.00</text>
<text x="553.62" y="474.77" font-size="4.80" font-family='"Liberation Sans", sans-serif' font-weight="700" fill="#f51414" text-anchor="middle" textLength="7.28" lengthAdjust="spacingAndGlyphs" stroke="#f51414" stroke-width="0.1">0.99</text>
<text x="435.00" y="482.66" font-size="4.80" font-family='"Liberation Sans", sans-serif' font-weight="700" fill="#f51414" text-anchor="middle" textLength="7.28" lengthAdjust="spacingAndGlyphs" stroke="#f51414" stroke-width="0.1">0.31</text>
<text x="577.35" y="482.66" font-size="4.80" font-family='"Liberation Sans", sans-serif' font-weight="700" fill="#f51414" text-anchor="middle" textLength="7.28" lengthAdjust="spacingAndGlyphs" stroke="#f51414" stroke-width="0.1">0.9x</text>
<text x="442.90" y="490.55" font-size="4.80" font-family='"Liberation Sans", sans-serif' font-weight="700" fill="#f51414" text-anchor="middle" textLength="7.28" lengthAdjust="spacingAndGlyphs" stroke="#f51414" stroke-width="0.1">0.53</text>
<text x="569.44" y="490.55" font-size="4.80" font-family='"Liberation Sans", sans-serif' font-weight="700" fill="#f51414" text-anchor="middle" textLength="7.28" lengthAdjust="spacingAndGlyphs" stroke="#f51414" stroke-width="0.1">0.40</text>
<rect x="391.50" y="303.40" width="189.80" height="189.40" fill="none" stroke="#2e2e2e" stroke-width="1"/>
<text x="386.90" y="311.15" font-size="8.60" font-family='"Liberation Sans", sans-serif' font-weight="400" fill="#161616" text-anchor="end" textLength="23.27" lengthAdjust="spacingAndGlyphs" stroke="#161616" stroke-width="0.28">32PSK</text>
<text x="398.95" y="497.80" font-size="9.00" font-family='"Liberation Sans", sans-serif' font-weight="400" fill="#161616" text-anchor="end" textLength="23.27" lengthAdjust="spacingAndGlyphs" transform="rotate(-90 398.95 497.80)" stroke="#161616" stroke-width="0.29">32PSK</text>
<text x="386.90" y="319.04" font-size="8.60" font-family='"Liberation Sans", sans-serif' font-weight="400" fill="#161616" text-anchor="end" textLength="28.30" lengthAdjust="spacingAndGlyphs" stroke="#161616" stroke-width="0.28">16APSK</text>
<text x="406.86" y="497.80" font-size="9.00" font-family='"Liberation Sans", sans-serif' font-weight="400" fill="#161616" text-anchor="end" textLength="28.30" lengthAdjust="spacingAndGlyphs" transform="rotate(-90 406.86 497.80)" stroke="#161616" stroke-width="0.29">16APSK</text>
<text x="386.90" y="326.93" font-size="8.60" font-family='"Liberation Sans", sans-serif' font-weight="400" fill="#161616" text-anchor="end" textLength="26.51" lengthAdjust="spacingAndGlyphs" stroke="#161616" stroke-width="0.28">32QAM</text>
<text x="414.77" y="497.80" font-size="9.00" font-family='"Liberation Sans", sans-serif' font-weight="400" fill="#161616" text-anchor="end" textLength="26.51" lengthAdjust="spacingAndGlyphs" transform="rotate(-90 414.77 497.80)" stroke="#161616" stroke-width="0.29">32QAM</text>
<text x="386.90" y="334.82" font-size="8.60" font-family='"Liberation Sans", sans-serif' font-weight="400" fill="#161616" text-anchor="end" textLength="10.57" lengthAdjust="spacingAndGlyphs" stroke="#161616" stroke-width="0.28">FM</text>
<text x="422.68" y="497.80" font-size="9.00" font-family='"Liberation Sans", sans-serif' font-weight="400" fill="#161616" text-anchor="end" textLength="10.57" lengthAdjust="spacingAndGlyphs" transform="rotate(-90 422.68 497.80)" stroke="#161616" stroke-width="0.29">FM</text>
<text x="386.90" y="342.71" font-size="8.60" font-family='"Liberation Sans", sans-serif' font-weight="400" fill="#161616" text-anchor="end" textLength="26.51" lengthAdjust="spacingAndGlyphs" stroke="#161616" stroke-width="0.28">16QAM</text>
<text x="430.59" y="497.80" font-size="9.00" font-family='"Liberation Sans", sans-serif' font-weight="400" fill="#161616" text-anchor="end" textLength="26.51" lengthAdjust="spacingAndGlyphs" transform="rotate(-90 430.59 497.80)" stroke="#161616" stroke-width="0.29">16QAM</text>
<text x="386.90" y="350.60" font-size="8.60" font-family='"Liberation Sans", sans-serif' font-weight="400" fill="#161616" text-anchor="end" textLength="21.52" lengthAdjust="spacingAndGlyphs" stroke="#161616" stroke-width="0.28">GMSK</text>
<text x="438.50" y="497.80" font-size="9.00" font-family='"Liberation Sans", sans-serif' font-weight="400" fill="#161616" text-anchor="end" textLength="21.52" lengthAdjust="spacingAndGlyphs" transform="rotate(-90 438.50 497.80)" stroke="#161616" stroke-width="0.29">GMSK</text>
<text x="386.90" y="358.50" font-size="8.60" font-family='"Liberation Sans", sans-serif' font-weight="400" fill="#161616" text-anchor="end" textLength="28.30" lengthAdjust="spacingAndGlyphs" stroke="#161616" stroke-width="0.28">32APSK</text>
<text x="446.40" y="497.80" font-size="9.00" font-family='"Liberation Sans", sans-serif' font-weight="400" fill="#161616" text-anchor="end" textLength="28.30" lengthAdjust="spacingAndGlyphs" transform="rotate(-90 446.40 497.80)" stroke="#161616" stroke-width="0.29">32APSK</text>
<text x="386.90" y="366.39" font-size="8.60" font-family='"Liberation Sans", sans-serif' font-weight="400" fill="#161616" text-anchor="end" textLength="25.49" lengthAdjust="spacingAndGlyphs" stroke="#161616" stroke-width="0.28">OQPSK</text>
<text x="454.31" y="497.80" font-size="9.00" font-family='"Liberation Sans", sans-serif' font-weight="400" fill="#161616" text-anchor="end" textLength="25.49" lengthAdjust="spacingAndGlyphs" transform="rotate(-90 454.31 497.80)" stroke="#161616" stroke-width="0.29">OQPSK</text>
<text x="386.90" y="374.28" font-size="8.60" font-family='"Liberation Sans", sans-serif' font-weight="400" fill="#161616" text-anchor="end" textLength="19.19" lengthAdjust="spacingAndGlyphs" stroke="#161616" stroke-width="0.28">8ASK</text>
<text x="462.22" y="497.80" font-size="9.00" font-family='"Liberation Sans", sans-serif' font-weight="400" fill="#161616" text-anchor="end" textLength="19.19" lengthAdjust="spacingAndGlyphs" transform="rotate(-90 462.22 497.80)" stroke="#161616" stroke-width="0.29">8ASK</text>
<text x="386.90" y="382.17" font-size="8.60" font-family='"Liberation Sans", sans-serif' font-weight="400" fill="#161616" text-anchor="end" textLength="18.96" lengthAdjust="spacingAndGlyphs" stroke="#161616" stroke-width="0.28">BPSK</text>
<text x="470.13" y="497.80" font-size="9.00" font-family='"Liberation Sans", sans-serif' font-weight="400" fill="#161616" text-anchor="end" textLength="18.96" lengthAdjust="spacingAndGlyphs" transform="rotate(-90 470.13 497.80)" stroke="#161616" stroke-width="0.29">BPSK</text>
<text x="386.90" y="390.06" font-size="8.60" font-family='"Liberation Sans", sans-serif' font-weight="400" fill="#161616" text-anchor="end" textLength="18.59" lengthAdjust="spacingAndGlyphs" stroke="#161616" stroke-width="0.28">8PSK</text>
<text x="478.04" y="497.80" font-size="9.00" font-family='"Liberation Sans", sans-serif' font-weight="400" fill="#161616" text-anchor="end" textLength="18.59" lengthAdjust="spacingAndGlyphs" transform="rotate(-90 478.04 497.80)" stroke="#161616" stroke-width="0.29">8PSK</text>
<text x="386.90" y="397.95" font-size="8.60" font-family='"Liberation Sans", sans-serif' font-weight="400" fill="#161616" text-anchor="end" textLength="40.85" lengthAdjust="spacingAndGlyphs" stroke="#161616" stroke-width="0.28">AM-SSB-SC</text>
<text x="485.95" y="497.80" font-size="9.00" font-family='"Liberation Sans", sans-serif' font-weight="400" fill="#161616" text-anchor="end" textLength="40.85" lengthAdjust="spacingAndGlyphs" transform="rotate(-90 485.95 497.80)" stroke="#161616" stroke-width="0.29">AM-SSB-SC</text>
<text x="386.90" y="405.85" font-size="8.60" font-family='"Liberation Sans", sans-serif' font-weight="400" fill="#161616" text-anchor="end" textLength="19.19" lengthAdjust="spacingAndGlyphs" stroke="#161616" stroke-width="0.28">4ASK</text>
<text x="493.85" y="497.80" font-size="9.00" font-family='"Liberation Sans", sans-serif' font-weight="400" fill="#161616" text-anchor="end" textLength="19.19" lengthAdjust="spacingAndGlyphs" transform="rotate(-90 493.85 497.80)" stroke="#161616" stroke-width="0.29">4ASK</text>
<text x="386.90" y="413.74" font-size="8.60" font-family='"Liberation Sans", sans-serif' font-weight="400" fill="#161616" text-anchor="end" textLength="23.27" lengthAdjust="spacingAndGlyphs" stroke="#161616" stroke-width="0.28">16PSK</text>
<text x="501.76" y="497.80" font-size="9.00" font-family='"Liberation Sans", sans-serif' font-weight="400" fill="#161616" text-anchor="end" textLength="23.27" lengthAdjust="spacingAndGlyphs" transform="rotate(-90 501.76 497.80)" stroke="#161616" stroke-width="0.29">16PSK</text>
<text x="386.90" y="421.63" font-size="8.60" font-family='"Liberation Sans", sans-serif' font-weight="400" fill="#161616" text-anchor="end" textLength="28.30" lengthAdjust="spacingAndGlyphs" stroke="#161616" stroke-width="0.28">64APSK</text>
<text x="509.67" y="497.80" font-size="9.00" font-family='"Liberation Sans", sans-serif' font-weight="400" fill="#161616" text-anchor="end" textLength="28.30" lengthAdjust="spacingAndGlyphs" transform="rotate(-90 509.67 497.80)" stroke="#161616" stroke-width="0.29">64APSK</text>
<text x="386.90" y="429.52" font-size="8.60" font-family='"Liberation Sans", sans-serif' font-weight="400" fill="#161616" text-anchor="end" textLength="32.98" lengthAdjust="spacingAndGlyphs" stroke="#161616" stroke-width="0.28">128APSK</text>
<text x="517.58" y="497.80" font-size="9.00" font-family='"Liberation Sans", sans-serif' font-weight="400" fill="#161616" text-anchor="end" textLength="32.98" lengthAdjust="spacingAndGlyphs" transform="rotate(-90 517.58 497.80)" stroke="#161616" stroke-width="0.29">128APSK</text>
<text x="386.90" y="437.41" font-size="8.60" font-family='"Liberation Sans", sans-serif' font-weight="400" fill="#161616" text-anchor="end" textLength="31.18" lengthAdjust="spacingAndGlyphs" stroke="#161616" stroke-width="0.28">128QAM</text>
<text x="525.49" y="497.80" font-size="9.00" font-family='"Liberation Sans", sans-serif' font-weight="400" fill="#161616" text-anchor="end" textLength="31.18" lengthAdjust="spacingAndGlyphs" transform="rotate(-90 525.49 497.80)" stroke="#161616" stroke-width="0.29">128QAM</text>
<text x="386.90" y="445.30" font-size="8.60" font-family='"Liberation Sans", sans-serif' font-weight="400" fill="#161616" text-anchor="end" textLength="41.84" lengthAdjust="spacingAndGlyphs" stroke="#161616" stroke-width="0.28">AM-DSB-SC</text>
<text x="533.40" y="497.80" font-size="9.00" font-family='"Liberation Sans", sans-serif' font-weight="400" fill="#161616" text-anchor="end" textLength="41.84" lengthAdjust="spacingAndGlyphs" transform="rotate(-90 533.40 497.80)" stroke="#161616" stroke-width="0.29">AM-DSB-SC</text>
<text x="386.90" y="453.20" font-size="8.60" font-family='"Liberation Sans", sans-serif' font-weight="400" fill="#161616" text-anchor="end" textLength="43.15" lengthAdjust="spacingAndGlyphs" stroke="#161616" stroke-width="0.28">AM-SSB-WC</text>
<text x="541.30" y="497.80" font-size="9.00" font-family='"Liberation Sans", sans-serif' font-weight="400" fill="#161616" text-anchor="end" textLength="43.15" lengthAdjust="spacingAndGlyphs" transform="rotate(-90 541.30 497.80)" stroke="#161616" stroke-width="0.29">AM-SSB-WC</text>
<text x="386.90" y="461.09" font-size="8.60" font-family='"Liberation Sans", sans-serif' font-weight="400" fill="#161616" text-anchor="end" textLength="26.51" lengthAdjust="spacingAndGlyphs" stroke="#161616" stroke-width="0.28">64QAM</text>
<text x="549.21" y="497.80" font-size="9.00" font-family='"Liberation Sans", sans-serif' font-weight="400" fill="#161616" text-anchor="end" textLength="26.51" lengthAdjust="spacingAndGlyphs" transform="rotate(-90 549.21 497.80)" stroke="#161616" stroke-width="0.29">64QAM</text>
<text x="386.90" y="468.98" font-size="8.60" font-family='"Liberation Sans", sans-serif' font-weight="400" fill="#161616" text-anchor="end" textLength="19.70" lengthAdjust="spacingAndGlyphs" stroke="#161616" stroke-width="0.28">QPSK</text>
<text x="557.12" y="497.80" font-size="9.00" font-family='"Liberation Sans", sans-serif' font-weight="400" fill="#161616" text-anchor="end" textLength="19.70" lengthAdjust="spacingAndGlyphs" transform="rotate(-90 557.12 497.80)" stroke="#161616" stroke-width="0.29">QPSK</text>
<text x="386.90" y="476.87" font-size="8.60" font-family='"Liberation Sans", sans-serif' font-weight="400" fill="#161616" text-anchor="end" textLength="31.18" lengthAdjust="spacingAndGlyphs" stroke="#161616" stroke-width="0.28">256QAM</text>
<text x="565.03" y="497.80" font-size="9.00" font-family='"Liberation Sans", sans-serif' font-weight="400" fill="#161616" text-anchor="end" textLength="31.18" lengthAdjust="spacingAndGlyphs" transform="rotate(-90 565.03 497.80)" stroke="#161616" stroke-width="0.29">256QAM</text>
<text x="386.90" y="484.76" font-size="8.60" font-family='"Liberation Sans", sans-serif' font-weight="400" fill="#161616" text-anchor="end" textLength="44.14" lengthAdjust="spacingAndGlyphs" stroke="#161616" stroke-width="0.28">AM-DSB-WC</text>
<text x="572.94" y="497.80" font-size="9.00" font-family='"Liberation Sans", sans-serif' font-weight="400" fill="#161616" text-anchor="end" textLength="44.14" lengthAdjust="spacingAndGlyphs" transform="rotate(-90 572.94 497.80)" stroke="#161616" stroke-width="0.29">AM-DSB-WC</text>
<text x="386.90" y="492.65" font-size="8.60" font-family='"Liberation Sans", sans-serif' font-weight="400" fill="#161616" text-anchor="end" textLength="16.39" lengthAdjust="spacingAndGlyphs" stroke="#161616" stroke-width="0.28">OOK</text>
<text x="580.85" y="497.80" font-size="9.00" font-family='"Liberation Sans", sans-serif' font-weight="400" fill="#161616" text-anchor="end" textLength="16.39" lengthAdjust="spacingAndGlyphs" transform="rotate(-90 580.85 497.80)" stroke="#161616" stroke-width="0.29">OOK</text>
<linearGradient id="gd" x1="0" y1="1" x2="0" y2="0"><stop offset="0" stop-color="#ffffff"/><stop offset="1.0000" stop-color="#000000"/></linearGradient>
<rect x="595.00" y="303.30" width="10.20" height="189.50" fill="url(#gd)" stroke="#2e2e2e" stroke-width="1"/>
<line x1="605.20" y1="493.20" x2="608.20" y2="493.20" stroke="#2e2e2e" stroke-width="0.90"/>
<text x="609.80" y="496.50" font-size="8.20" font-family='"Liberation Sans", sans-serif' font-weight="400" fill="#161616" text-anchor="start" textLength="11.85" lengthAdjust="spacingAndGlyphs" stroke="#161616" stroke-width="0.18">0.0</text>
<line x1="605.20" y1="455.11" x2="608.20" y2="455.11" stroke="#2e2e2e" stroke-width="0.90"/>
<text x="609.80" y="458.41" font-size="8.20" font-family='"Liberation Sans", sans-serif' font-weight="400" fill="#161616" text-anchor="start" textLength="11.85" lengthAdjust="spacingAndGlyphs" stroke="#161616" stroke-width="0.18">0.2</text>
<line x1="605.20" y1="417.02" x2="608.20" y2="417.02" stroke="#2e2e2e" stroke-width="0.90"/>
<text x="609.80" y="420.32" font-size="8.20" font-family='"Liberation Sans", sans-serif' font-weight="400" fill="#161616" text-anchor="start" textLength="11.85" lengthAdjust="spacingAndGlyphs" stroke="#161616" stroke-width="0.18">0.4</text>
<line x1="605.20" y1="378.93" x2="608.20" y2="378.93" stroke="#2e2e2e" stroke-width="0.90"/>
<text x="609.80" y="382.23" font-size="8.20" font-family='"Liberation Sans", sans-serif' font-weight="400" fill="#161616" text-anchor="start" textLength="11.85" lengthAdjust="spacingAndGlyphs" stroke="#161616" stroke-width="0.18">0.6</text>
<line x1="605.20" y1="340.84" x2="608.20" y2="340.84" stroke="#2e2e2e" stroke-width="0.90"/>
<text x="609.80" y="344.14" font-size="8.20" font-family='"Liberation Sans", sans-serif' font-weight="400" fill="#161616" text-anchor="start" textLength="11.85" lengthAdjust="spacingAndGlyphs" stroke="#161616" stroke-width="0.18">0.8</text>
<text x="487.50" y="561.60" font-size="18.00" font-family='"Liberation Serif", serif' font-weight="400" fill="#2a2a2a" text-anchor="middle" textLength="232.00" lengthAdjust="spacingAndGlyphs">(d) The confusion matrix of the</text>
<text x="490.00" y="583.10" font-size="18.00" font-family='"Liberation Serif", serif' font-weight="400" fill="#2a2a2a" text-anchor="middle" textLength="272.00" lengthAdjust="spacingAndGlyphs">SOTA model for LIW under SNR&gt;10</text>
<clipPath id="ce"><rect x="43.00" y="620.20" width="262.90" height="196.10"/></clipPath>
<line x1="54.95" y1="620.20" x2="54.95" y2="816.30" stroke="#cbcbcb" stroke-width="1.00"/>
<line x1="102.75" y1="620.20" x2="102.75" y2="816.30" stroke="#cbcbcb" stroke-width="1.00"/>
<line x1="150.55" y1="620.20" x2="150.55" y2="816.30" stroke="#cbcbcb" stroke-width="1.00"/>
<line x1="198.35" y1="620.20" x2="198.35" y2="816.30" stroke="#cbcbcb" stroke-width="1.00"/>
<line x1="246.15" y1="620.20" x2="246.15" y2="816.30" stroke="#cbcbcb" stroke-width="1.00"/>
<line x1="293.95" y1="620.20" x2="293.95" y2="816.30" stroke="#cbcbcb" stroke-width="1.00"/>
<line x1="43.00" y1="816.30" x2="305.90" y2="816.30" stroke="#cbcbcb" stroke-width="1.00"/>
<line x1="43.00" y1="777.08" x2="305.90" y2="777.08" stroke="#cbcbcb" stroke-width="1.00"/>
<line x1="43.00" y1="737.86" x2="305.90" y2="737.86" stroke="#cbcbcb" stroke-width="1.00"/>
<line x1="43.00" y1="698.64" x2="305.90" y2="698.64" stroke="#cbcbcb" stroke-width="1.00"/>
<line x1="43.00" y1="659.42" x2="305.90" y2="659.42" stroke="#cbcbcb" stroke-width="1.00"/>
<line x1="43.00" y1="620.20" x2="305.90" y2="620.20" stroke="#cbcbcb" stroke-width="1.00"/>
<line x1="54.95" y1="816.30" x2="54.95" y2="819.30" stroke="#2e2e2e" stroke-width="0.90"/>
<line x1="102.75" y1="816.30" x2="102.75" y2="819.30" stroke="#2e2e2e" stroke-width="0.90"/>
<line x1="150.55" y1="816.30" x2="150.55" y2="819.30" stroke="#2e2e2e" stroke-width="0.90"/>
<line x1="198.35" y1="816.30" x2="198.35" y2="819.30" stroke="#2e2e2e" stroke-width="0.90"/>
<line x1="246.15" y1="816.30" x2="246.15" y2="819.30" stroke="#2e2e2e" stroke-width="0.90"/>
<line x1="293.95" y1="816.30" x2="293.95" y2="819.30" stroke="#2e2e2e" stroke-width="0.90"/>
<line x1="40.00" y1="816.30" x2="43.00" y2="816.30" stroke="#2e2e2e" stroke-width="0.90"/>
<line x1="40.00" y1="777.08" x2="43.00" y2="777.08" stroke="#2e2e2e" stroke-width="0.90"/>
<line x1="40.00" y1="737.86" x2="43.00" y2="737.86" stroke="#2e2e2e" stroke-width="0.90"/>
<line x1="40.00" y1="698.64" x2="43.00" y2="698.64" stroke="#2e2e2e" stroke-width="0.90"/>
<line x1="40.00" y1="659.42" x2="43.00" y2="659.42" stroke="#2e2e2e" stroke-width="0.90"/>
<line x1="40.00" y1="620.20" x2="43.00" y2="620.20" stroke="#2e2e2e" stroke-width="0.90"/>
<text x="54.95" y="827.50" font-size="8.30" font-family='"Liberation Sans", sans-serif' font-weight="400" fill="#161616" text-anchor="middle" textLength="14.77" lengthAdjust="spacingAndGlyphs" stroke="#161616" stroke-width="0.18">−20</text>
<text x="102.75" y="827.50" font-size="8.30" font-family='"Liberation Sans", sans-serif' font-weight="400" fill="#161616" text-anchor="middle" textLength="14.77" lengthAdjust="spacingAndGlyphs" stroke="#161616" stroke-width="0.18">−10</text>
<text x="150.55" y="827.50" font-size="8.30" font-family='"Liberation Sans", sans-serif' font-weight="400" fill="#161616" text-anchor="middle" textLength="4.45" lengthAdjust="spacingAndGlyphs" stroke="#161616" stroke-width="0.18">0</text>
<text x="198.35" y="827.50" font-size="8.30" font-family='"Liberation Sans", sans-serif' font-weight="400" fill="#161616" text-anchor="middle" textLength="8.91" lengthAdjust="spacingAndGlyphs" stroke="#161616" stroke-width="0.18">10</text>
<text x="246.15" y="827.50" font-size="8.30" font-family='"Liberation Sans", sans-serif' font-weight="400" fill="#161616" text-anchor="middle" textLength="8.91" lengthAdjust="spacingAndGlyphs" stroke="#161616" stroke-width="0.18">20</text>
<text x="293.95" y="827.50" font-size="8.30" font-family='"Liberation Sans", sans-serif' font-weight="400" fill="#161616" text-anchor="middle" textLength="8.91" lengthAdjust="spacingAndGlyphs" stroke="#161616" stroke-width="0.18">30</text>
<text x="37.40" y="819.30" font-size="8.30" font-family='"Liberation Sans", sans-serif' font-weight="400" fill="#161616" text-anchor="end" textLength="14.77" lengthAdjust="spacingAndGlyphs" stroke="#161616" stroke-width="0.18">−40</text>
<text x="37.40" y="780.08" font-size="8.30" font-family='"Liberation Sans", sans-serif' font-weight="400" fill="#161616" text-anchor="end" textLength="14.77" lengthAdjust="spacingAndGlyphs" stroke="#161616" stroke-width="0.18">−35</text>
<text x="37.40" y="740.86" font-size="8.30" font-family='"Liberation Sans", sans-serif' font-weight="400" fill="#161616" text-anchor="end" textLength="14.77" lengthAdjust="spacingAndGlyphs" stroke="#161616" stroke-width="0.18">−30</text>
<text x="37.40" y="701.64" font-size="8.30" font-family='"Liberation Sans", sans-serif' font-weight="400" fill="#161616" text-anchor="end" textLength="14.77" lengthAdjust="spacingAndGlyphs" stroke="#161616" stroke-width="0.18">−25</text>
<text x="37.40" y="662.42" font-size="8.30" font-family='"Liberation Sans", sans-serif' font-weight="400" fill="#161616" text-anchor="end" textLength="14.77" lengthAdjust="spacingAndGlyphs" stroke="#161616" stroke-width="0.18">−20</text>
<text x="37.40" y="623.20" font-size="8.30" font-family='"Liberation Sans", sans-serif' font-weight="400" fill="#161616" text-anchor="end" textLength="14.77" lengthAdjust="spacingAndGlyphs" stroke="#161616" stroke-width="0.18">−15</text>
<polyline points="54.95,787.99 64.51,785.01 74.07,779.05 83.63,769.48 93.19,746.42 102.75,722.42 112.31,712.92 121.87,696.92 131.43,682.96 140.99,672.37 150.55,667.90 160.11,664.92 169.67,664.92 179.23,664.45 188.79,664.45 198.35,663.90 207.91,661.94 217.47,657.39 227.03,653.94 236.59,652.92 246.15,651.90 255.71,651.90 265.27,652.45 274.83,650.96 284.39,652.92 293.95,651.90" fill="none" stroke="#4169e1" stroke-width="1.40" stroke-linejoin="round" clip-path="url(#ce)"/>
<g fill="#4169e1" clip-path="url(#ce)">
<circle cx="54.95" cy="787.99" r="2.80"/>
<circle cx="64.51" cy="785.01" r="2.80"/>
<circle cx="74.07" cy="779.05" r="2.80"/>
<circle cx="83.63" cy="769.48" r="2.80"/>
<circle cx="93.19" cy="746.42" r="2.80"/>
<circle cx="102.75" cy="722.42" r="2.80"/>
<circle cx="112.31" cy="712.92" r="2.80"/>
<circle cx="121.87" cy="696.92" r="2.80"/>
<circle cx="131.43" cy="682.96" r="2.80"/>
<circle cx="140.99" cy="672.37" r="2.80"/>
<circle cx="150.55" cy="667.90" r="2.80"/>
<circle cx="160.11" cy="664.92" r="2.80"/>
<circle cx="169.67" cy="664.92" r="2.80"/>
<circle cx="179.23" cy="664.45" r="2.80"/>
<circle cx="188.79" cy="664.45" r="2.80"/>
<circle cx="198.35" cy="663.90" r="2.80"/>
<circle cx="207.91" cy="661.94" r="2.80"/>
<circle cx="217.47" cy="657.39" r="2.80"/>
<circle cx="227.03" cy="653.94" r="2.80"/>
<circle cx="236.59" cy="652.92" r="2.80"/>
<circle cx="246.15" cy="651.90" r="2.80"/>
<circle cx="255.71" cy="651.90" r="2.80"/>
<circle cx="265.27" cy="652.45" r="2.80"/>
<circle cx="274.83" cy="650.96" r="2.80"/>
<circle cx="284.39" cy="652.92" r="2.80"/>
<circle cx="293.95" cy="651.90" r="2.80"/>
</g>
<rect x="43.00" y="620.20" width="262.90" height="196.10" fill="none" stroke="#2e2e2e" stroke-width="1"/>
<text x="17.40" y="718.30" font-size="10.20" font-family='"Liberation Sans", sans-serif' font-weight="400" fill="#161616" text-anchor="middle" textLength="40.34" lengthAdjust="spacingAndGlyphs" transform="rotate(-90 17.40 718.30)" stroke="#161616" stroke-width="0.22">PSR(dB)</text>
<text x="174.20" y="840.20" font-size="10.90" font-family='"Liberation Sans", sans-serif' font-weight="400" fill="#161616" text-anchor="middle" textLength="41.79" lengthAdjust="spacingAndGlyphs" stroke="#161616" stroke-width="0.24">SNR(dB)</text>
<text x="158.25" y="869.60" font-size="18.00" font-family='"Liberation Serif", serif' font-weight="400" fill="#2a2a2a" text-anchor="middle" textLength="288.50" lengthAdjust="spacingAndGlyphs">(e) The PSR of LIW with different SNR</text>
<clipPath id="cf"><rect x="352.50" y="618.40" width="286.10" height="183.10"/></clipPath>
<g clip-path="url(#cf)" fill="#4169e1">
<rect x="365.48" y="668.60" width="8.74" height="134.90" fill="#4169e1"/>
<rect x="376.42" y="695.80" width="8.74" height="107.70" fill="#4169e1"/>
<rect x="387.36" y="697.60" width="8.74" height="105.90" fill="#4169e1"/>
<rect x="398.30" y="669.80" width="8.74" height="133.70" fill="#4169e1"/>
<rect x="409.24" y="702.10" width="8.74" height="101.40" fill="#4169e1"/>
<rect x="420.18" y="670.00" width="8.74" height="133.50" fill="#4169e1"/>
<rect x="431.12" y="682.90" width="8.74" height="120.60" fill="#4169e1"/>
<rect x="442.06" y="708.00" width="8.74" height="95.50" fill="#4169e1"/>
<rect x="453.00" y="688.50" width="8.74" height="115.00" fill="#4169e1"/>
<rect x="463.94" y="665.80" width="8.74" height="137.70" fill="#4169e1"/>
<rect x="474.88" y="688.30" width="8.74" height="115.20" fill="#4169e1"/>
<rect x="485.82" y="730.50" width="8.74" height="73.00" fill="#4169e1"/>
<rect x="496.76" y="735.10" width="8.74" height="68.40" fill="#4169e1"/>
<rect x="507.70" y="688.70" width="8.74" height="114.80" fill="#4169e1"/>
<rect x="518.64" y="728.80" width="8.74" height="74.70" fill="#4169e1"/>
<rect x="529.58" y="752.30" width="8.74" height="51.20" fill="#4169e1"/>
<rect x="540.52" y="785.30" width="8.74" height="18.20" fill="#4169e1"/>
<rect x="551.46" y="763.50" width="8.74" height="40.00" fill="#4169e1"/>
<rect x="562.40" y="627.10" width="8.74" height="176.40" fill="#4169e1"/>
<rect x="573.34" y="684.30" width="8.74" height="119.20" fill="#4169e1"/>
<rect x="584.28" y="699.50" width="8.74" height="104.00" fill="#4169e1"/>
<rect x="595.22" y="682.20" width="8.74" height="121.30" fill="#4169e1"/>
<rect x="606.16" y="629.70" width="8.74" height="173.80" fill="#4169e1"/>
<rect x="617.10" y="651.50" width="8.74" height="152.00" fill="#4169e1"/>
</g>
<rect x="352.50" y="618.40" width="286.10" height="183.10" fill="none" stroke="#2e2e2e" stroke-width="1"/>
<line x1="349.50" y1="620.00" x2="352.50" y2="620.00" stroke="#2e2e2e" stroke-width="0.90"/>
<text x="347.10" y="623.00" font-size="7.90" font-family='"Liberation Sans", sans-serif' font-weight="400" fill="#161616" text-anchor="end" textLength="12.01" lengthAdjust="spacingAndGlyphs" stroke="#161616" stroke-width="0.17">-16</text>
<line x1="349.50" y1="653.00" x2="352.50" y2="653.00" stroke="#2e2e2e" stroke-width="0.90"/>
<text x="347.10" y="656.00" font-size="7.90" font-family='"Liberation Sans", sans-serif' font-weight="400" fill="#161616" text-anchor="end" textLength="12.01" lengthAdjust="spacingAndGlyphs" stroke="#161616" stroke-width="0.17">-18</text>
<line x1="349.50" y1="686.00" x2="352.50" y2="686.00" stroke="#2e2e2e" stroke-width="0.90"/>
<text x="347.10" y="689.00" font-size="7.90" font-family='"Liberation Sans", sans-serif' font-weight="400" fill="#161616" text-anchor="end" textLength="12.01" lengthAdjust="spacingAndGlyphs" stroke="#161616" stroke-width="0.17">-20</text>
<line x1="349.50" y1="719.00" x2="352.50" y2="719.00" stroke="#2e2e2e" stroke-width="0.90"/>
<text x="347.10" y="722.00" font-size="7.90" font-family='"Liberation Sans", sans-serif' font-weight="400" fill="#161616" text-anchor="end" textLength="12.01" lengthAdjust="spacingAndGlyphs" stroke="#161616" stroke-width="0.17">-22</text>
<line x1="349.50" y1="752.00" x2="352.50" y2="752.00" stroke="#2e2e2e" stroke-width="0.90"/>
<text x="347.10" y="755.00" font-size="7.90" font-family='"Liberation Sans", sans-serif' font-weight="400" fill="#161616" text-anchor="end" textLength="12.01" lengthAdjust="spacingAndGlyphs" stroke="#161616" stroke-width="0.17">-24</text>
<line x1="349.50" y1="785.00" x2="352.50" y2="785.00" stroke="#2e2e2e" stroke-width="0.90"/>
<text x="347.10" y="788.00" font-size="7.90" font-family='"Liberation Sans", sans-serif' font-weight="400" fill="#161616" text-anchor="end" textLength="12.01" lengthAdjust="spacingAndGlyphs" stroke="#161616" stroke-width="0.17">-26</text>
<line x1="369.85" y1="801.50" x2="369.85" y2="804.50" stroke="#2e2e2e" stroke-width="0.90"/>
<text x="372.65" y="806.50" font-size="8.40" font-family='"Liberation Sans", sans-serif' font-weight="400" fill="#161616" text-anchor="end" textLength="22.80" lengthAdjust="spacingAndGlyphs" transform="rotate(-90 372.65 806.50)" stroke="#161616" stroke-width="0.18">32PSK</text>
<line x1="380.79" y1="801.50" x2="380.79" y2="804.50" stroke="#2e2e2e" stroke-width="0.90"/>
<text x="383.59" y="806.50" font-size="8.40" font-family='"Liberation Sans", sans-serif' font-weight="400" fill="#161616" text-anchor="end" textLength="27.72" lengthAdjust="spacingAndGlyphs" transform="rotate(-90 383.59 806.50)" stroke="#161616" stroke-width="0.18">16APSK</text>
<line x1="391.73" y1="801.50" x2="391.73" y2="804.50" stroke="#2e2e2e" stroke-width="0.90"/>
<text x="394.53" y="806.50" font-size="8.40" font-family='"Liberation Sans", sans-serif' font-weight="400" fill="#161616" text-anchor="end" textLength="25.97" lengthAdjust="spacingAndGlyphs" transform="rotate(-90 394.53 806.50)" stroke="#161616" stroke-width="0.18">32QAM</text>
<line x1="402.67" y1="801.50" x2="402.67" y2="804.50" stroke="#2e2e2e" stroke-width="0.90"/>
<text x="405.47" y="806.50" font-size="8.40" font-family='"Liberation Sans", sans-serif' font-weight="400" fill="#161616" text-anchor="end" textLength="10.35" lengthAdjust="spacingAndGlyphs" transform="rotate(-90 405.47 806.50)" stroke="#161616" stroke-width="0.18">FM</text>
<line x1="413.61" y1="801.50" x2="413.61" y2="804.50" stroke="#2e2e2e" stroke-width="0.90"/>
<text x="416.41" y="806.50" font-size="8.40" font-family='"Liberation Sans", sans-serif' font-weight="400" fill="#161616" text-anchor="end" textLength="25.97" lengthAdjust="spacingAndGlyphs" transform="rotate(-90 416.41 806.50)" stroke="#161616" stroke-width="0.18">16QAM</text>
<line x1="424.55" y1="801.50" x2="424.55" y2="804.50" stroke="#2e2e2e" stroke-width="0.90"/>
<text x="427.35" y="806.50" font-size="8.40" font-family='"Liberation Sans", sans-serif' font-weight="400" fill="#161616" text-anchor="end" textLength="21.08" lengthAdjust="spacingAndGlyphs" transform="rotate(-90 427.35 806.50)" stroke="#161616" stroke-width="0.18">GMSK</text>
<line x1="435.49" y1="801.50" x2="435.49" y2="804.50" stroke="#2e2e2e" stroke-width="0.90"/>
<text x="438.29" y="806.50" font-size="8.40" font-family='"Liberation Sans", sans-serif' font-weight="400" fill="#161616" text-anchor="end" textLength="27.72" lengthAdjust="spacingAndGlyphs" transform="rotate(-90 438.29 806.50)" stroke="#161616" stroke-width="0.18">32APSK</text>
<line x1="446.43" y1="801.50" x2="446.43" y2="804.50" stroke="#2e2e2e" stroke-width="0.90"/>
<text x="449.23" y="806.50" font-size="8.40" font-family='"Liberation Sans", sans-serif' font-weight="400" fill="#161616" text-anchor="end" textLength="24.97" lengthAdjust="spacingAndGlyphs" transform="rotate(-90 449.23 806.50)" stroke="#161616" stroke-width="0.18">OQPSK</text>
<line x1="457.37" y1="801.50" x2="457.37" y2="804.50" stroke="#2e2e2e" stroke-width="0.90"/>
<text x="460.17" y="806.50" font-size="8.40" font-family='"Liberation Sans", sans-serif' font-weight="400" fill="#161616" text-anchor="end" textLength="18.80" lengthAdjust="spacingAndGlyphs" transform="rotate(-90 460.17 806.50)" stroke="#161616" stroke-width="0.18">8ASK</text>
<line x1="468.31" y1="801.50" x2="468.31" y2="804.50" stroke="#2e2e2e" stroke-width="0.90"/>
<text x="471.11" y="806.50" font-size="8.40" font-family='"Liberation Sans", sans-serif' font-weight="400" fill="#161616" text-anchor="end" textLength="18.57" lengthAdjust="spacingAndGlyphs" transform="rotate(-90 471.11 806.50)" stroke="#161616" stroke-width="0.18">BPSK</text>
<line x1="479.25" y1="801.50" x2="479.25" y2="804.50" stroke="#2e2e2e" stroke-width="0.90"/>
<text x="482.05" y="806.50" font-size="8.40" font-family='"Liberation Sans", sans-serif' font-weight="400" fill="#161616" text-anchor="end" textLength="18.21" lengthAdjust="spacingAndGlyphs" transform="rotate(-90 482.05 806.50)" stroke="#161616" stroke-width="0.18">8PSK</text>
<line x1="490.19" y1="801.50" x2="490.19" y2="804.50" stroke="#2e2e2e" stroke-width="0.90"/>
<text x="492.99" y="806.50" font-size="8.40" font-family='"Liberation Sans", sans-serif' font-weight="400" fill="#161616" text-anchor="end" textLength="40.01" lengthAdjust="spacingAndGlyphs" transform="rotate(-90 492.99 806.50)" stroke="#161616" stroke-width="0.18">AM-SSB-SC</text>
<line x1="501.13" y1="801.50" x2="501.13" y2="804.50" stroke="#2e2e2e" stroke-width="0.90"/>
<text x="503.93" y="806.50" font-size="8.40" font-family='"Liberation Sans", sans-serif' font-weight="400" fill="#161616" text-anchor="end" textLength="18.80" lengthAdjust="spacingAndGlyphs" transform="rotate(-90 503.93 806.50)" stroke="#161616" stroke-width="0.18">4ASK</text>
<line x1="512.07" y1="801.50" x2="512.07" y2="804.50" stroke="#2e2e2e" stroke-width="0.90"/>
<text x="514.87" y="806.50" font-size="8.40" font-family='"Liberation Sans", sans-serif' font-weight="400" fill="#161616" text-anchor="end" textLength="22.80" lengthAdjust="spacingAndGlyphs" transform="rotate(-90 514.87 806.50)" stroke="#161616" stroke-width="0.18">16PSK</text>
<line x1="523.01" y1="801.50" x2="523.01" y2="804.50" stroke="#2e2e2e" stroke-width="0.90"/>
<text x="525.81" y="806.50" font-size="8.40" font-family='"Liberation Sans", sans-serif' font-weight="400" fill="#161616" text-anchor="end" textLength="27.72" lengthAdjust="spacingAndGlyphs" transform="rotate(-90 525.81 806.50)" stroke="#161616" stroke-width="0.18">64APSK</text>
<line x1="533.95" y1="801.50" x2="533.95" y2="804.50" stroke="#2e2e2e" stroke-width="0.90"/>
<text x="536.75" y="806.50" font-size="8.40" font-family='"Liberation Sans", sans-serif' font-weight="400" fill="#161616" text-anchor="end" textLength="32.30" lengthAdjust="spacingAndGlyphs" transform="rotate(-90 536.75 806.50)" stroke="#161616" stroke-width="0.18">128APSK</text>
<line x1="544.89" y1="801.50" x2="544.89" y2="804.50" stroke="#2e2e2e" stroke-width="0.90"/>
<text x="547.69" y="806.50" font-size="8.40" font-family='"Liberation Sans", sans-serif' font-weight="400" fill="#161616" text-anchor="end" textLength="30.55" lengthAdjust="spacingAndGlyphs" transform="rotate(-90 547.69 806.50)" stroke="#161616" stroke-width="0.18">128QAM</text>
<line x1="555.83" y1="801.50" x2="555.83" y2="804.50" stroke="#2e2e2e" stroke-width="0.90"/>
<text x="558.63" y="806.50" font-size="8.40" font-family='"Liberation Sans", sans-serif' font-weight="400" fill="#161616" text-anchor="end" textLength="40.99" lengthAdjust="spacingAndGlyphs" transform="rotate(-90 558.63 806.50)" stroke="#161616" stroke-width="0.18">AM-DSB-SC</text>
<line x1="566.77" y1="801.50" x2="566.77" y2="804.50" stroke="#2e2e2e" stroke-width="0.90"/>
<text x="569.57" y="806.50" font-size="8.40" font-family='"Liberation Sans", sans-serif' font-weight="400" fill="#161616" text-anchor="end" textLength="42.27" lengthAdjust="spacingAndGlyphs" transform="rotate(-90 569.57 806.50)" stroke="#161616" stroke-width="0.18">AM-SSB-WC</text>
<line x1="577.71" y1="801.50" x2="577.71" y2="804.50" stroke="#2e2e2e" stroke-width="0.90"/>
<text x="580.51" y="806.50" font-size="8.40" font-family='"Liberation Sans", sans-serif' font-weight="400" fill="#161616" text-anchor="end" textLength="25.97" lengthAdjust="spacingAndGlyphs" transform="rotate(-90 580.51 806.50)" stroke="#161616" stroke-width="0.18">64QAM</text>
<line x1="588.65" y1="801.50" x2="588.65" y2="804.50" stroke="#2e2e2e" stroke-width="0.90"/>
<text x="591.45" y="806.50" font-size="8.40" font-family='"Liberation Sans", sans-serif' font-weight="400" fill="#161616" text-anchor="end" textLength="19.30" lengthAdjust="spacingAndGlyphs" transform="rotate(-90 591.45 806.50)" stroke="#161616" stroke-width="0.18">QPSK</text>
<line x1="599.59" y1="801.50" x2="599.59" y2="804.50" stroke="#2e2e2e" stroke-width="0.90"/>
<text x="602.39" y="806.50" font-size="8.40" font-family='"Liberation Sans", sans-serif' font-weight="400" fill="#161616" text-anchor="end" textLength="30.55" lengthAdjust="spacingAndGlyphs" transform="rotate(-90 602.39 806.50)" stroke="#161616" stroke-width="0.18">256QAM</text>
<line x1="610.53" y1="801.50" x2="610.53" y2="804.50" stroke="#2e2e2e" stroke-width="0.90"/>
<text x="613.33" y="806.50" font-size="8.40" font-family='"Liberation Sans", sans-serif' font-weight="400" fill="#161616" text-anchor="end" textLength="43.24" lengthAdjust="spacingAndGlyphs" transform="rotate(-90 613.33 806.50)" stroke="#161616" stroke-width="0.18">AM-DSB-WC</text>
<line x1="621.47" y1="801.50" x2="621.47" y2="804.50" stroke="#2e2e2e" stroke-width="0.90"/>
<text x="624.27" y="806.50" font-size="8.40" font-family='"Liberation Sans", sans-serif' font-weight="400" fill="#161616" text-anchor="end" textLength="16.06" lengthAdjust="spacingAndGlyphs" transform="rotate(-90 624.27 806.50)" stroke="#161616" stroke-width="0.18">OOK</text>
<text x="330.80" y="709.90" font-size="10.20" font-family='"Liberation Sans", sans-serif' font-weight="400" fill="#161616" text-anchor="middle" textLength="40.34" lengthAdjust="spacingAndGlyphs" transform="rotate(-90 330.80 709.90)" stroke="#161616" stroke-width="0.22">PSR(dB)</text>
<text x="490.50" y="868.10" font-size="18.00" font-family='"Liberation Serif", serif' font-weight="400" fill="#2a2a2a" text-anchor="middle" textLength="294.00" lengthAdjust="spacingAndGlyphs">(f) The PSR of LIW with different labels</text>
<text x="490.00" y="888.10" font-size="18.00" font-family='"Liberation Serif", serif' font-weight="400" fill="#2a2a2a" text-anchor="middle" textLength="75.00" lengthAdjust="spacingAndGlyphs">(SNR&gt;10)</text>
<text x="2.25" y="930.40" font-size="26.50" font-family='"Liberation Serif", serif' font-weight="700" fill="#111" text-anchor="start" textLength="101.00" lengthAdjust="spacingAndGlyphs">Figure 3.</text>
<text x="114.40" y="930.60" font-size="26.00" font-family='"Liberation Serif", serif' font-weight="400" fill="#111" text-anchor="start" textLength="526.00" lengthAdjust="spacingAndGlyphs">Effect of the model and LIW in ideal conditions</text>
</svg></body></html>
